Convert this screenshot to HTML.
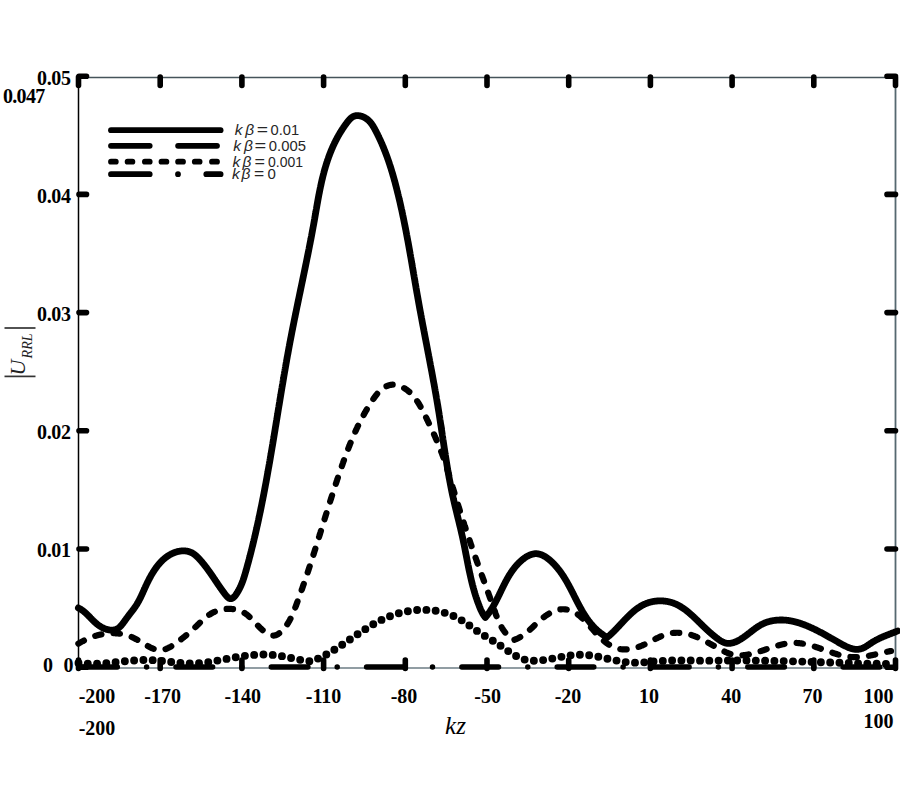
<!DOCTYPE html><html><head><meta charset="utf-8"><style>html,body{margin:0;padding:0;background:#fff;}svg{display:block;}</style></head><body>
<svg width="900" height="800" viewBox="0 0 900 800">
<rect width="900" height="800" fill="#fff"/>
<line x1="78.5" y1="77.5" x2="895.5" y2="77.5" stroke="#46545a" stroke-width="1.6"/>
<line x1="895.5" y1="77.5" x2="895.5" y2="668" stroke="#566870" stroke-width="1.8"/>
<line x1="78.5" y1="668" x2="895.5" y2="668" stroke="#6c7c84" stroke-width="1.6"/>
<line x1="78.5" y1="77.5" x2="78.5" y2="668" stroke="#000" stroke-width="1.5"/>
<path d="M78.5,77V85.5 M78.5,668.5V660 M160.2,77V85.5 M160.2,668.5V660 M241.9,77V85.5 M241.9,668.5V660 M323.6,77V85.5 M323.6,668.5V660 M405.3,77V85.5 M405.3,668.5V660 M487.0,77V85.5 M487.0,668.5V660 M568.7,77V85.5 M568.7,668.5V660 M650.4,77V85.5 M650.4,668.5V660 M732.1,77V85.5 M732.1,668.5V660 M813.8,77V85.5 M813.8,668.5V660 M895.5,77V85.5 M895.5,668.5V660 M79,667.2H86.5 M895.5,667.2H887 M79,549.0H86.5 M895.5,549.0H887 M79,430.8H86.5 M895.5,430.8H887 M79,312.6H86.5 M895.5,312.6H887 M79,194.4H86.5 M895.5,194.4H887 M79,76.2H86.5 M895.5,76.2H887" stroke="#000" stroke-width="5.6" stroke-linecap="round" fill="none"/>
<g stroke="#000" stroke-width="5.8" stroke-linecap="round" fill="none">
<path d="M111,130.2H220.6"/>
<path d="M111,145.8H149.7M178.1,145.8H217"/>
<path d="M111,161.7H115.8M127.6,161.7H132.4M144.9,161.7H149.7M161.5,161.7H166.4M178.1,161.7H183M194.8,161.7H199.6M212,161.7H217"/>
<path d="M111,174.2H149.7M178,174.2H178M206.3,174.2H220.6"/>
</g>
<path d="M78.40,607.90L78.85,608.14 79.30,608.38 79.74,608.63 80.17,608.88 80.60,609.14 81.02,609.41 81.43,609.69 81.84,609.97 82.25,610.26 82.65,610.55 83.04,610.86 83.43,611.16 83.82,611.48 84.20,611.79 84.58,612.12 84.96,612.44 85.33,612.77 85.70,613.11 86.07,613.45 86.43,613.79 86.80,614.14 87.16,614.49 87.52,614.84 87.87,615.19 88.23,615.55 88.58,615.91 88.94,616.27 89.29,616.63 89.64,616.99 90.00,617.35 90.35,617.71 90.70,618.08 91.06,618.44 91.41,618.80 91.77,619.16 92.12,619.53 92.48,619.89 92.84,620.24 93.20,620.60 93.56,620.96 93.93,621.31 94.30,621.66 94.67,622.00 95.04,622.35 95.42,622.69 95.80,623.02 96.19,623.36 96.58,623.69 96.97,624.01 97.37,624.33 97.77,624.64 98.17,624.95 98.59,625.26 99.00,625.55 99.43,625.84 99.86,626.13 100.29,626.41 100.73,626.68 101.17,626.94 101.62,627.20 102.08,627.44 102.54,627.68 103.00,627.91 103.47,628.14 103.94,628.35 104.41,628.55 104.88,628.74 105.36,628.92 105.84,629.09 106.32,629.25 106.80,629.40 107.28,629.53 107.76,629.65 108.24,629.76 108.72,629.86 109.20,629.94 109.68,630.01 110.16,630.07 110.64,630.11 111.11,630.14 111.58,630.15 112.05,630.14 112.52,630.12 112.98,630.08 113.44,630.03 113.89,629.96 114.34,629.87 114.79,629.77 115.23,629.64 115.66,629.50 116.09,629.34 116.51,629.16 116.93,628.96 117.33,628.75 117.74,628.51 118.13,628.25 118.52,627.97 118.90,627.68 119.27,627.37 119.64,627.05 120.00,626.71 120.36,626.35 120.72,625.99 121.06,625.61 121.41,625.22 121.75,624.82 122.09,624.42 122.42,624.00 122.75,623.58 123.08,623.15 123.40,622.72 123.72,622.28 124.04,621.84 124.36,621.40 124.68,620.96 125.00,620.51 125.31,620.07 125.63,619.62 125.95,619.18 126.26,618.75 126.58,618.31 126.89,617.88 127.21,617.45 127.53,617.03 127.84,616.61 128.16,616.19 128.48,615.77 128.79,615.36 129.11,614.95 129.42,614.54 129.73,614.13 130.04,613.73 130.35,613.32 130.66,612.92 130.97,612.52 131.28,612.12 131.58,611.72 131.89,611.33 132.19,610.93 132.49,610.53 132.79,610.14 133.08,609.74 133.37,609.35 133.67,608.95 133.95,608.55 134.24,608.16 134.52,607.76 134.80,607.37 135.08,606.97 135.35,606.57 135.63,606.17 135.89,605.77 136.16,605.37 136.42,604.96 136.68,604.56 136.93,604.15 137.18,603.74 137.43,603.33 137.67,602.91 137.91,602.50 138.15,602.08 138.38,601.67 138.61,601.25 138.84,600.83 139.07,600.40 139.29,599.98 139.51,599.55 139.73,599.13 139.95,598.70 140.16,598.27 140.38,597.84 140.59,597.41 140.80,596.97 141.01,596.54 141.21,596.10 141.42,595.66 141.62,595.22 141.83,594.78 142.03,594.34 142.23,593.90 142.44,593.45 142.64,593.01 142.84,592.56 143.04,592.12 143.24,591.67 143.44,591.22 143.64,590.77 143.84,590.32 144.05,589.87 144.25,589.42 144.45,588.96 144.66,588.51 144.86,588.05 145.07,587.60 145.27,587.14 145.48,586.68 145.69,586.23 145.90,585.77 146.11,585.31 146.33,584.85 146.55,584.39 146.76,583.93 146.98,583.47 147.21,583.01 147.43,582.55 147.65,582.08 147.88,581.62 148.11,581.16 148.34,580.70 148.58,580.24 148.81,579.78 149.05,579.32 149.29,578.86 149.53,578.40 149.77,577.94 150.02,577.49 150.27,577.03 150.52,576.58 150.77,576.12 151.03,575.67 151.28,575.22 151.54,574.77 151.81,574.32 152.07,573.87 152.34,573.42 152.61,572.98 152.88,572.54 153.15,572.10 153.43,571.66 153.71,571.22 153.99,570.79 154.27,570.35 154.56,569.92 154.85,569.50 155.14,569.07 155.44,568.65 155.73,568.23 156.03,567.81 156.34,567.40 156.64,566.98 156.95,566.58 157.26,566.17 157.57,565.77 157.89,565.37 158.21,564.97 158.53,564.58 158.86,564.19 159.19,563.81 159.52,563.43 159.85,563.05 160.19,562.67 160.53,562.30 160.88,561.94 161.22,561.58 161.57,561.22 161.93,560.87 162.28,560.52 162.64,560.17 163.00,559.83 163.37,559.50 163.74,559.17 164.11,558.84 164.49,558.52 164.87,558.21 165.25,557.90 165.64,557.59 166.03,557.29 166.42,557.00 166.82,556.71 167.22,556.42 167.62,556.15 168.03,555.87 168.44,555.61 168.85,555.35 169.27,555.09 169.69,554.84 170.12,554.60 170.55,554.36 170.98,554.13 171.42,553.91 171.86,553.69 172.30,553.48 172.75,553.28 173.20,553.08 173.66,552.89 174.11,552.71 174.58,552.54 175.04,552.37 175.51,552.21 175.98,552.06 176.45,551.91 176.92,551.78 177.40,551.65 177.87,551.53 178.35,551.42 178.83,551.32 179.31,551.23 179.79,551.15 180.28,551.08 180.76,551.01 181.24,550.96 181.73,550.92 182.21,550.89 182.69,550.87 183.18,550.86 183.66,550.86 184.14,550.87 184.62,550.89 185.10,550.92 185.58,550.97 186.06,551.02 186.53,551.09 187.00,551.17 187.47,551.27 187.94,551.37 188.41,551.49 188.87,551.62 189.33,551.77 189.79,551.92 190.24,552.09 190.69,552.28 191.14,552.48 191.58,552.69 192.02,552.91 192.45,553.15 192.88,553.41 193.31,553.68 193.73,553.96 194.14,554.25 194.56,554.55 194.96,554.87 195.37,555.20 195.77,555.53 196.17,555.88 196.56,556.23 196.95,556.59 197.33,556.96 197.71,557.33 198.09,557.71 198.46,558.09 198.83,558.48 199.20,558.87 199.56,559.27 199.92,559.67 200.27,560.07 200.63,560.47 200.98,560.87 201.32,561.27 201.66,561.67 202.00,562.07 202.34,562.47 202.67,562.87 203.00,563.28 203.33,563.68 203.65,564.08 203.97,564.48 204.29,564.88 204.61,565.28 204.92,565.68 205.23,566.08 205.54,566.48 205.85,566.88 206.15,567.28 206.46,567.68 206.76,568.08 207.06,568.48 207.35,568.88 207.65,569.28 207.94,569.68 208.23,570.09 208.52,570.49 208.81,570.89 209.10,571.29 209.38,571.69 209.67,572.09 209.95,572.50 210.23,572.90 210.52,573.30 210.80,573.70 211.08,574.11 211.35,574.51 211.63,574.92 211.91,575.32 212.19,575.72 212.46,576.13 212.74,576.54 213.01,576.94 213.29,577.35 213.57,577.75 213.84,578.16 214.12,578.57 214.39,578.98 214.67,579.39 214.94,579.80 215.22,580.20 215.49,580.62 215.77,581.03 216.05,581.44 216.32,581.85 216.60,582.26 216.88,582.67 217.16,583.09 217.44,583.50 217.72,583.92 218.01,584.33 218.29,584.75 218.58,585.17 218.86,585.58 219.15,586.00 219.44,586.42 219.73,586.84 220.02,587.26 220.32,587.69 220.61,588.11 220.91,588.53 221.21,588.95 221.51,589.38 221.82,589.81 222.12,590.23 222.43,590.66 222.74,591.09 223.05,591.52 223.37,591.95 223.69,592.38 224.01,592.81 224.33,593.25 224.65,593.68 224.98,594.11 225.31,594.54 225.65,594.96 225.98,595.37 226.32,595.76 226.66,596.15 227.00,596.51 227.34,596.86 227.68,597.19 228.03,597.49 228.37,597.76 228.72,598.00 229.07,598.21 229.41,598.39 229.76,598.53 230.11,598.63 230.46,598.68 230.81,598.70 231.16,598.66 231.50,598.59 231.85,598.48 232.20,598.33 232.54,598.14 232.89,597.92 233.23,597.67 233.57,597.39 233.90,597.08 234.24,596.75 234.57,596.39 234.90,596.01 235.22,595.62 235.54,595.20 235.86,594.77 236.17,594.33 236.47,593.88 236.77,593.42 237.07,592.96 237.36,592.49 237.65,592.01 237.92,591.54 238.20,591.07 238.46,590.59 238.72,590.12 238.98,589.64 239.23,589.17 239.47,588.69 239.71,588.22 239.95,587.74 240.17,587.27 240.40,586.79 240.62,586.31 240.83,585.84 241.04,585.36 241.25,584.88 241.45,584.41 241.65,583.93 241.84,583.45 242.03,582.97 242.22,582.49 242.40,582.02 242.58,581.54 242.75,581.06 242.93,580.58 243.09,580.10 243.26,579.62 243.43,579.14 243.59,578.66 243.74,578.18 243.90,577.70 244.05,577.22 244.21,576.74 244.36,576.26 244.50,575.78 244.65,575.30 244.80,574.82 244.94,574.34 245.08,573.86 245.22,573.38 245.36,572.90 245.50,572.41 245.64,571.93 245.77,571.45 245.91,570.97 246.04,570.49 246.18,570.01 246.32,569.52 246.45,569.04 246.58,568.56 246.72,568.08 246.85,567.60 246.99,567.11 247.12,566.63 247.25,566.15 247.38,565.67 247.52,565.18 247.65,564.70 247.78,564.22 247.91,563.74 248.04,563.25 248.17,562.77 248.30,562.29 248.43,561.80 248.56,561.32 248.69,560.84 248.82,560.35 248.95,559.87 249.08,559.39 249.20,558.90 249.33,558.42 249.46,557.94 249.59,557.45 249.71,556.97 249.84,556.49 249.96,556.00 250.09,555.52 250.22,555.03 250.34,554.55 250.46,554.07 250.59,553.58 250.71,553.10 250.84,552.61 250.96,552.13 251.08,551.64 251.21,551.16 251.33,550.67 251.45,550.19 251.57,549.70 251.69,549.22 251.82,548.73 251.94,548.25 252.06,547.76 252.18,547.28 252.30,546.79 252.42,546.31 252.54,545.82 252.66,545.34 252.78,544.85 252.89,544.37 253.01,543.88 253.13,543.40 253.25,542.91 253.37,542.43 253.48,541.94 253.60,541.45 253.72,540.97 253.83,540.48 253.95,540.00 254.07,539.51 254.18,539.02 254.30,538.54 254.41,538.05 254.53,537.56 254.64,537.08 254.76,536.59 254.87,536.11 254.98,535.62 255.10,535.13 255.21,534.65 255.32,534.16 255.43,533.67 255.55,533.18 255.66,532.70 255.77,532.21 255.88,531.72 255.99,531.24 256.10,530.75 256.22,530.26 256.33,529.77 256.44,529.29 256.55,528.80 256.66,528.31 256.77,527.83 256.87,527.34 256.98,526.85 257.09,526.36 257.20,525.87 257.31,525.39 257.42,524.90 257.53,524.41 257.63,523.92 257.74,523.44 257.85,522.95 257.95,522.46 258.06,521.97 258.17,521.48 258.27,520.99 258.38,520.51 258.48,520.02 258.59,519.53 258.69,519.04 258.80,518.55 258.90,518.06 259.01,517.58 259.11,517.09 259.22,516.60 259.32,516.11 259.42,515.62 259.53,515.13 259.63,514.64 259.73,514.15 259.84,513.66 259.94,513.18 260.04,512.69 260.14,512.20 260.24,511.71 260.35,511.22 260.45,510.73 260.55,510.24 260.65,509.75 260.75,509.26 260.85,508.77 260.95,508.28 261.05,507.79 261.15,507.30 261.25,506.81 261.35,506.32 261.45,505.83 261.55,505.34 261.65,504.85 261.75,504.36 261.85,503.87 261.94,503.38 262.04,502.89 262.14,502.40 262.24,501.91 262.33,501.42 262.43,500.93 262.53,500.44 262.63,499.95 262.72,499.46 262.82,498.97 262.92,498.48 263.01,497.99 263.11,497.50 263.20,497.01 263.30,496.52 263.40,496.03 263.49,495.54 263.59,495.05 263.68,494.56 263.78,494.07 263.87,493.58 263.96,493.09 264.06,492.59 264.15,492.10 264.25,491.61 264.34,491.12 264.43,490.63 264.53,490.14 264.62,489.65 264.71,489.16 264.81,488.67 264.90,488.18 264.99,487.68 265.08,487.19 265.18,486.70 265.27,486.21 265.36,485.72 265.45,485.23 265.54,484.74 265.64,484.24 265.73,483.75 265.82,483.26 265.91,482.77 266.00,482.28 266.09,481.79 266.18,481.29 266.27,480.80 266.36,480.31 266.45,479.82 266.54,479.33 266.63,478.84 266.72,478.34 266.81,477.85 266.90,477.36 266.99,476.87 267.08,476.38 267.17,475.88 267.26,475.39 267.35,474.90 267.43,474.41 267.52,473.92 267.61,473.42 267.70,472.93 267.79,472.44 267.88,471.95 267.96,471.45 268.05,470.96 268.14,470.47 268.23,469.98 268.31,469.48 268.40,468.99 268.49,468.50 268.57,468.01 268.66,467.51 268.75,467.02 268.83,466.53 268.92,466.04 269.01,465.54 269.09,465.05 269.18,464.56 269.27,464.07 269.35,463.57 269.44,463.08 269.52,462.59 269.61,462.10 269.70,461.60 269.78,461.11 269.87,460.62 269.95,460.12 270.04,459.63 270.12,459.14 270.21,458.65 270.29,458.15 270.38,457.66 270.46,457.17 270.55,456.67 270.63,456.18 270.71,455.69 270.80,455.19 270.88,454.70 270.97,454.21 271.05,453.71 271.14,453.22 271.22,452.73 271.30,452.24 271.39,451.74 271.47,451.25 271.55,450.76 271.64,450.26 271.72,449.77 271.80,449.28 271.89,448.78 271.97,448.29 272.05,447.80 272.14,447.30 272.22,446.81 272.30,446.32 272.39,445.82 272.47,445.33 272.55,444.84 272.63,444.34 272.72,443.85 272.80,443.35 272.88,442.86 272.96,442.37 273.05,441.87 273.13,441.38 273.21,440.89 273.29,440.39 273.37,439.90 273.46,439.41 273.54,438.91 273.62,438.42 273.70,437.93 273.78,437.43 273.87,436.94 273.95,436.44 274.03,435.95 274.11,435.46 274.19,434.96 274.27,434.47 274.36,433.98 274.44,433.48 274.52,432.99 274.60,432.49 274.68,432.00 274.76,431.51 274.84,431.01 274.93,430.52 275.01,430.03 275.09,429.53 275.17,429.04 275.25,428.54 275.33,428.05 275.41,427.56 275.49,427.06 275.57,426.57 275.66,426.07 275.74,425.58 275.82,425.09 275.90,424.59 275.98,424.10 276.06,423.60 276.14,423.11 276.22,422.62 276.30,422.12 276.38,421.63 276.46,421.14 276.54,420.64 276.63,420.15 276.71,419.65 276.79,419.16 276.87,418.67 276.95,418.17 277.03,417.68 277.11,417.18 277.19,416.69 277.27,416.20 277.35,415.70 277.43,415.21 277.51,414.71 277.59,414.22 277.68,413.73 277.76,413.23 277.84,412.74 277.92,412.24 278.00,411.75 278.08,411.26 278.16,410.76 278.24,410.27 278.32,409.77 278.40,409.28 278.48,408.79 278.56,408.29 278.64,407.80 278.73,407.31 278.81,406.81 278.89,406.32 278.97,405.82 279.05,405.33 279.13,404.84 279.21,404.34 279.29,403.85 279.37,403.35 279.45,402.86 279.54,402.37 279.62,401.87 279.70,401.38 279.78,400.88 279.86,400.39 279.94,399.90 280.02,399.40 280.10,398.91 280.19,398.41 280.27,397.92 280.35,397.43 280.43,396.93 280.51,396.44 280.59,395.95 280.67,395.45 280.76,394.96 280.84,394.46 280.92,393.97 281.00,393.48 281.08,392.98 281.17,392.49 281.25,392.00 281.33,391.50 281.41,391.01 281.49,390.51 281.58,390.02 281.66,389.53 281.74,389.03 281.82,388.54 281.91,388.05 281.99,387.55 282.07,387.06 282.15,386.57 282.24,386.07 282.32,385.58 282.40,385.08 282.48,384.59 282.57,384.10 282.65,383.60 282.73,383.11 282.82,382.62 282.90,382.12 282.98,381.63 283.07,381.14 283.15,380.64 283.23,380.15 283.32,379.66 283.40,379.16 283.48,378.67 283.57,378.18 283.65,377.68 283.74,377.19 283.82,376.70 283.90,376.20 283.99,375.71 284.07,375.22 284.16,374.72 284.24,374.23 284.33,373.74 284.41,373.24 284.50,372.75 284.58,372.26 284.67,371.76 284.75,371.27 284.84,370.78 284.92,370.28 285.01,369.79 285.09,369.30 285.18,368.81 285.26,368.31 285.35,367.82 285.44,367.33 285.52,366.83 285.61,366.34 285.69,365.85 285.78,365.36 285.87,364.86 285.95,364.37 286.04,363.88 286.13,363.38 286.21,362.89 286.30,362.40 286.39,361.91 286.47,361.41 286.56,360.92 286.65,360.43 286.74,359.94 286.83,359.44 286.91,358.95 287.00,358.46 287.09,357.97 287.18,357.47 287.27,356.98 287.35,356.49 287.44,356.00 287.53,355.50 287.62,355.01 287.71,354.52 287.80,354.03 287.89,353.54 287.98,353.04 288.07,352.55 288.16,352.06 288.25,351.57 288.34,351.07 288.43,350.58 288.52,350.09 288.61,349.60 288.70,349.11 288.79,348.61 288.88,348.12 288.97,347.63 289.06,347.14 289.15,346.65 289.25,346.16 289.34,345.66 289.43,345.17 289.52,344.68 289.61,344.19 289.71,343.70 289.80,343.21 289.89,342.71 289.98,342.22 290.08,341.73 290.17,341.24 290.26,340.75 290.36,340.26 290.45,339.77 290.54,339.27 290.64,338.78 290.73,338.29 290.83,337.80 290.92,337.31 291.02,336.82 291.11,336.33 291.21,335.84 291.30,335.35 291.40,334.85 291.49,334.36 291.59,333.87 291.68,333.38 291.78,332.89 291.87,332.40 291.97,331.91 292.07,331.42 292.16,330.93 292.26,330.44 292.35,329.95 292.45,329.46 292.55,328.96 292.65,328.47 292.74,327.98 292.84,327.49 292.94,327.00 293.03,326.51 293.13,326.02 293.23,325.53 293.33,325.04 293.42,324.55 293.52,324.06 293.62,323.57 293.72,323.08 293.82,322.59 293.92,322.10 294.01,321.61 294.11,321.12 294.21,320.63 294.31,320.14 294.41,319.65 294.51,319.16 294.61,318.67 294.71,318.18 294.81,317.69 294.91,317.20 295.01,316.71 295.11,316.22 295.21,315.73 295.30,315.24 295.40,314.75 295.50,314.26 295.60,313.77 295.71,313.28 295.81,312.79 295.91,312.30 296.01,311.81 296.11,311.32 296.21,310.83 296.31,310.34 296.41,309.85 296.51,309.36 296.61,308.87 296.71,308.38 296.81,307.89 296.91,307.40 297.01,306.91 297.11,306.42 297.22,305.93 297.32,305.44 297.42,304.95 297.52,304.46 297.62,303.97 297.72,303.48 297.82,302.99 297.93,302.50 298.03,302.01 298.13,301.52 298.23,301.03 298.33,300.54 298.43,300.05 298.53,299.56 298.64,299.07 298.74,298.58 298.84,298.09 298.94,297.60 299.04,297.11 299.15,296.62 299.25,296.13 299.35,295.64 299.45,295.16 299.55,294.67 299.66,294.18 299.76,293.69 299.86,293.20 299.96,292.71 300.06,292.22 300.17,291.73 300.27,291.24 300.37,290.75 300.47,290.26 300.58,289.77 300.68,289.28 300.78,288.79 300.88,288.30 300.98,287.81 301.09,287.32 301.19,286.83 301.29,286.34 301.39,285.85 301.49,285.36 301.60,284.87 301.70,284.38 301.80,283.90 301.90,283.41 302.01,282.92 302.11,282.43 302.21,281.94 302.31,281.45 302.41,280.96 302.52,280.47 302.62,279.98 302.72,279.49 302.82,279.00 302.92,278.51 303.03,278.02 303.13,277.53 303.23,277.04 303.33,276.55 303.43,276.06 303.53,275.57 303.64,275.08 303.74,274.59 303.84,274.10 303.94,273.61 304.04,273.12 304.14,272.63 304.24,272.14 304.35,271.65 304.45,271.16 304.55,270.67 304.65,270.18 304.75,269.69 304.85,269.20 304.95,268.71 305.05,268.22 305.16,267.73 305.26,267.24 305.36,266.75 305.46,266.26 305.56,265.77 305.66,265.28 305.76,264.79 305.86,264.30 305.96,263.81 306.06,263.32 306.16,262.83 306.26,262.34 306.36,261.85 306.46,261.36 306.56,260.87 306.66,260.38 306.76,259.89 306.86,259.40 306.96,258.91 307.06,258.42 307.16,257.93 307.26,257.44 307.36,256.95 307.45,256.46 307.55,255.97 307.65,255.48 307.75,254.99 307.85,254.50 307.95,254.01 308.05,253.52 308.14,253.03 308.24,252.54 308.34,252.05 308.44,251.56 308.54,251.07 308.63,250.58 308.73,250.09 308.83,249.60 308.93,249.11 309.02,248.61 309.12,248.12 309.22,247.63 309.32,247.14 309.41,246.65 309.51,246.16 309.61,245.67 309.70,245.18 309.80,244.69 309.89,244.20 309.99,243.71 310.09,243.21 310.18,242.72 310.28,242.23 310.37,241.74 310.47,241.25 310.56,240.76 310.66,240.27 310.75,239.78 310.85,239.29 310.94,238.79 311.04,238.30 311.13,237.81 311.22,237.32 311.32,236.83 311.41,236.34 311.51,235.85 311.60,235.35 311.69,234.86 311.79,234.37 311.88,233.88 311.97,233.39 312.06,232.90 312.16,232.40 312.25,231.91 312.34,231.42 312.43,230.93 312.52,230.44 312.61,229.94 312.71,229.45 312.80,228.96 312.89,228.47 312.98,227.98 313.07,227.48 313.16,226.99 313.25,226.50 313.34,226.01 313.43,225.52 313.52,225.02 313.61,224.53 313.70,224.04 313.79,223.55 313.88,223.05 313.96,222.56 314.05,222.07 314.14,221.57 314.23,221.08 314.32,220.59 314.40,220.10 314.49,219.60 314.58,219.11 314.67,218.62 314.75,218.12 314.84,217.63 314.93,217.14 315.01,216.65 315.10,216.15 315.18,215.66 315.27,215.17 315.36,214.67 315.44,214.18 315.53,213.69 315.61,213.19 315.70,212.70 315.79,212.21 315.87,211.71 315.96,211.22 316.04,210.73 316.13,210.23 316.21,209.74 316.30,209.25 316.39,208.76 316.47,208.26 316.56,207.77 316.64,207.28 316.73,206.78 316.82,206.29 316.90,205.80 316.99,205.31 317.08,204.81 317.16,204.32 317.25,203.83 317.34,203.34 317.43,202.84 317.52,202.35 317.60,201.86 317.69,201.37 317.78,200.87 317.87,200.38 317.96,199.89 318.05,199.40 318.14,198.91 318.23,198.42 318.32,197.92 318.41,197.43 318.50,196.94 318.60,196.45 318.69,195.96 318.78,195.47 318.87,194.98 318.97,194.49 319.06,194.00 319.16,193.51 319.25,193.02 319.35,192.53 319.44,192.04 319.54,191.55 319.64,191.06 319.74,190.57 319.83,190.08 319.93,189.59 320.03,189.10 320.13,188.61 320.23,188.12 320.33,187.63 320.44,187.15 320.54,186.66 320.64,186.17 320.75,185.68 320.85,185.20 320.96,184.71 321.06,184.22 321.17,183.73 321.28,183.25 321.39,182.76 321.49,182.27 321.60,181.79 321.72,181.30 321.83,180.82 321.94,180.33 322.05,179.85 322.17,179.36 322.28,178.88 322.40,178.39 322.51,177.91 322.63,177.43 322.75,176.94 322.87,176.46 322.99,175.98 323.11,175.49 323.23,175.01 323.36,174.53 323.48,174.05 323.61,173.57 323.73,173.08 323.86,172.60 323.99,172.12 324.12,171.64 324.25,171.16 324.38,170.68 324.51,170.20 324.65,169.72 324.78,169.24 324.92,168.77 325.06,168.29 325.20,167.81 325.34,167.33 325.48,166.85 325.62,166.38 325.76,165.90 325.91,165.42 326.05,164.95 326.20,164.47 326.35,164.00 326.50,163.52 326.65,163.05 326.80,162.57 326.95,162.10 327.11,161.63 327.26,161.15 327.42,160.68 327.58,160.21 327.74,159.74 327.90,159.27 328.07,158.80 328.23,158.32 328.40,157.85 328.56,157.38 328.73,156.92 328.90,156.45 329.08,155.98 329.25,155.51 329.42,155.04 329.60,154.57 329.78,154.11 329.96,153.64 330.14,153.17 330.32,152.71 330.51,152.24 330.69,151.78 330.88,151.31 331.07,150.85 331.26,150.39 331.45,149.92 331.65,149.46 331.84,149.00 332.04,148.54 332.24,148.08 332.44,147.62 332.64,147.16 332.85,146.70 333.05,146.24 333.26,145.78 333.47,145.32 333.68,144.87 333.89,144.41 334.11,143.96 334.32,143.50 334.54,143.05 334.76,142.59 334.98,142.14 335.21,141.69 335.43,141.24 335.66,140.79 335.89,140.34 336.12,139.89 336.35,139.44 336.58,138.99 336.82,138.54 337.06,138.10 337.30,137.65 337.54,137.21 337.78,136.76 338.03,136.32 338.28,135.88 338.53,135.44 338.78,135.00 339.03,134.56 339.29,134.12 339.54,133.68 339.80,133.25 340.06,132.81 340.33,132.37 340.59,131.94 340.86,131.51 341.13,131.08 341.40,130.64 341.67,130.21 341.95,129.78 342.22,129.36 342.50,128.93 342.78,128.50 343.07,128.08 343.35,127.65 343.64,127.23 343.93,126.81 344.22,126.39 344.51,125.97 344.81,125.55 345.11,125.13 345.41,124.72 345.71,124.30 346.01,123.89 346.32,123.48 346.63,123.06 346.94,122.65 347.25,122.24 347.56,121.84 347.88,121.43 348.20,121.03 348.53,120.64 348.86,120.25 349.19,119.87 349.53,119.50 349.87,119.14 350.22,118.79 350.57,118.46 350.93,118.13 351.30,117.82 351.67,117.53 352.05,117.26 352.44,117.00 352.84,116.76 353.25,116.55 353.66,116.35 354.08,116.18 354.52,116.03 354.96,115.91 355.41,115.80 355.87,115.72 356.33,115.67 356.80,115.63 357.28,115.62 357.76,115.62 358.24,115.65 358.72,115.69 359.21,115.75 359.70,115.84 360.19,115.94 360.68,116.05 361.18,116.19 361.66,116.34 362.15,116.50 362.63,116.68 363.12,116.88 363.59,117.09 364.06,117.32 364.53,117.55 364.99,117.80 365.44,118.07 365.88,118.34 366.32,118.63 366.74,118.92 367.16,119.23 367.57,119.55 367.96,119.87 368.34,120.21 368.72,120.55 369.08,120.91 369.43,121.27 369.77,121.63 370.11,122.01 370.44,122.39 370.75,122.78 371.06,123.18 371.37,123.58 371.66,123.98 371.95,124.39 372.23,124.81 372.51,125.23 372.78,125.66 373.05,126.08 373.31,126.52 373.57,126.95 373.82,127.39 374.07,127.83 374.32,128.27 374.57,128.72 374.81,129.16 375.05,129.61 375.29,130.05 375.52,130.50 375.76,130.95 375.99,131.40 376.23,131.85 376.46,132.30 376.69,132.75 376.92,133.20 377.15,133.65 377.37,134.10 377.60,134.55 377.82,135.00 378.04,135.46 378.27,135.91 378.49,136.36 378.70,136.82 378.92,137.27 379.14,137.72 379.35,138.18 379.57,138.63 379.78,139.09 379.99,139.55 380.20,140.00 380.41,140.46 380.62,140.92 380.82,141.38 381.03,141.84 381.23,142.29 381.43,142.75 381.64,143.21 381.84,143.67 382.04,144.13 382.23,144.59 382.43,145.05 382.63,145.52 382.82,145.98 383.02,146.44 383.21,146.90 383.40,147.37 383.59,147.83 383.78,148.29 383.97,148.76 384.15,149.22 384.34,149.69 384.52,150.15 384.71,150.62 384.89,151.08 385.07,151.55 385.25,152.02 385.43,152.48 385.61,152.95 385.79,153.42 385.97,153.88 386.14,154.35 386.32,154.82 386.49,155.29 386.66,155.76 386.84,156.23 387.01,156.70 387.18,157.17 387.35,157.64 387.51,158.11 387.68,158.58 387.85,159.05 388.01,159.52 388.18,159.99 388.34,160.47 388.50,160.94 388.66,161.41 388.83,161.88 388.99,162.36 389.14,162.83 389.30,163.30 389.46,163.78 389.62,164.25 389.77,164.73 389.93,165.20 390.08,165.68 390.23,166.15 390.39,166.63 390.54,167.10 390.69,167.58 390.84,168.06 390.99,168.53 391.14,169.01 391.29,169.49 391.43,169.96 391.58,170.44 391.72,170.92 391.87,171.40 392.01,171.87 392.16,172.35 392.30,172.83 392.44,173.31 392.58,173.79 392.72,174.27 392.86,174.75 393.00,175.23 393.14,175.71 393.28,176.19 393.42,176.67 393.55,177.15 393.69,177.63 393.83,178.11 393.96,178.59 394.10,179.07 394.23,179.55 394.36,180.03 394.49,180.51 394.63,180.99 394.76,181.48 394.89,181.96 395.02,182.44 395.15,182.92 395.28,183.41 395.41,183.89 395.53,184.37 395.66,184.85 395.79,185.34 395.92,185.82 396.04,186.30 396.17,186.79 396.29,187.27 396.42,187.75 396.54,188.24 396.66,188.72 396.79,189.20 396.91,189.69 397.03,190.17 397.15,190.66 397.28,191.14 397.40,191.63 397.52,192.11 397.64,192.60 397.76,193.08 397.88,193.57 398.00,194.05 398.11,194.54 398.23,195.02 398.35,195.51 398.47,195.99 398.58,196.48 398.70,196.96 398.82,197.45 398.93,197.93 399.05,198.42 399.16,198.91 399.28,199.39 399.39,199.88 399.51,200.37 399.62,200.85 399.73,201.34 399.84,201.82 399.96,202.31 400.07,202.80 400.18,203.29 400.29,203.77 400.40,204.26 400.51,204.75 400.62,205.23 400.73,205.72 400.84,206.21 400.95,206.70 401.06,207.18 401.17,207.67 401.28,208.16 401.38,208.65 401.49,209.13 401.60,209.62 401.71,210.11 401.81,210.60 401.92,211.09 402.02,211.58 402.13,212.06 402.23,212.55 402.34,213.04 402.44,213.53 402.55,214.02 402.65,214.51 402.75,215.00 402.86,215.48 402.96,215.97 403.06,216.46 403.17,216.95 403.27,217.44 403.37,217.93 403.47,218.42 403.57,218.91 403.67,219.40 403.77,219.89 403.87,220.38 403.97,220.87 404.07,221.36 404.17,221.85 404.27,222.34 404.37,222.83 404.47,223.32 404.57,223.81 404.67,224.30 404.76,224.79 404.86,225.28 404.96,225.77 405.06,226.26 405.15,226.75 405.25,227.24 405.35,227.73 405.44,228.22 405.54,228.71 405.63,229.20 405.73,229.69 405.83,230.19 405.92,230.68 406.02,231.17 406.11,231.66 406.20,232.15 406.30,232.64 406.39,233.13 406.49,233.62 406.58,234.11 406.67,234.61 406.77,235.10 406.86,235.59 406.95,236.08 407.04,236.57 407.14,237.06 407.23,237.56 407.32,238.05 407.41,238.54 407.50,239.03 407.60,239.52 407.69,240.01 407.78,240.51 407.87,241.00 407.96,241.49 408.05,241.98 408.14,242.47 408.23,242.97 408.32,243.46 408.41,243.95 408.50,244.44 408.59,244.94 408.68,245.43 408.77,245.92 408.86,246.41 408.95,246.91 409.03,247.40 409.12,247.89 409.21,248.38 409.30,248.88 409.39,249.37 409.48,249.86 409.56,250.35 409.65,250.85 409.74,251.34 409.83,251.83 409.92,252.33 410.00,252.82 410.09,253.31 410.18,253.80 410.26,254.30 410.35,254.79 410.44,255.28 410.53,255.78 410.61,256.27 410.70,256.76 410.78,257.26 410.87,257.75 410.96,258.24 411.04,258.73 411.13,259.23 411.22,259.72 411.30,260.21 411.39,260.71 411.47,261.20 411.56,261.69 411.65,262.19 411.73,262.68 411.82,263.17 411.90,263.67 411.99,264.16 412.07,264.65 412.16,265.15 412.24,265.64 412.33,266.13 412.41,266.63 412.50,267.12 412.58,267.61 412.67,268.11 412.75,268.60 412.84,269.10 412.93,269.59 413.01,270.08 413.10,270.58 413.18,271.07 413.26,271.56 413.35,272.06 413.43,272.55 413.52,273.04 413.60,273.54 413.69,274.03 413.77,274.52 413.86,275.02 413.94,275.51 414.03,276.00 414.11,276.50 414.20,276.99 414.28,277.48 414.37,277.98 414.45,278.47 414.54,278.97 414.62,279.46 414.71,279.95 414.79,280.45 414.88,280.94 414.96,281.43 415.05,281.93 415.13,282.42 415.22,282.91 415.30,283.41 415.39,283.90 415.47,284.39 415.56,284.89 415.65,285.38 415.73,285.87 415.82,286.37 415.90,286.86 415.99,287.35 416.07,287.85 416.16,288.34 416.24,288.83 416.33,289.33 416.42,289.82 416.50,290.31 416.59,290.81 416.67,291.30 416.76,291.79 416.85,292.29 416.93,292.78 417.02,293.27 417.11,293.77 417.19,294.26 417.28,294.75 417.37,295.25 417.45,295.74 417.54,296.23 417.63,296.72 417.72,297.22 417.80,297.71 417.89,298.20 417.98,298.70 418.07,299.19 418.15,299.68 418.24,300.17 418.33,300.67 418.42,301.16 418.51,301.65 418.60,302.15 418.68,302.64 418.77,303.13 418.86,303.62 418.95,304.12 419.04,304.61 419.13,305.10 419.22,305.59 419.31,306.09 419.40,306.58 419.49,307.07 419.58,307.56 419.67,308.06 419.76,308.55 419.85,309.04 419.94,309.53 420.03,310.02 420.12,310.52 420.21,311.01 420.30,311.50 420.39,311.99 420.49,312.48 420.58,312.98 420.67,313.47 420.76,313.96 420.85,314.45 420.94,314.94 421.03,315.44 421.13,315.93 421.22,316.42 421.31,316.91 421.40,317.40 421.49,317.90 421.59,318.39 421.68,318.88 421.77,319.37 421.86,319.86 421.96,320.35 422.05,320.85 422.14,321.34 422.23,321.83 422.33,322.32 422.42,322.81 422.51,323.30 422.61,323.80 422.70,324.29 422.79,324.78 422.88,325.27 422.98,325.76 423.07,326.25 423.16,326.74 423.26,327.24 423.35,327.73 423.44,328.22 423.54,328.71 423.63,329.20 423.73,329.69 423.82,330.18 423.91,330.68 424.01,331.17 424.10,331.66 424.20,332.15 424.29,332.64 424.38,333.13 424.48,333.62 424.57,334.11 424.67,334.61 424.76,335.10 424.85,335.59 424.95,336.08 425.04,336.57 425.14,337.06 425.23,337.55 425.32,338.04 425.42,338.54 425.51,339.03 425.61,339.52 425.70,340.01 425.80,340.50 425.89,340.99 425.98,341.48 426.08,341.97 426.17,342.46 426.27,342.96 426.36,343.45 426.46,343.94 426.55,344.43 426.65,344.92 426.74,345.41 426.83,345.90 426.93,346.39 427.02,346.88 427.12,347.38 427.21,347.87 427.31,348.36 427.40,348.85 427.49,349.34 427.59,349.83 427.68,350.32 427.78,350.81 427.87,351.30 427.97,351.80 428.06,352.29 428.15,352.78 428.25,353.27 428.34,353.76 428.44,354.25 428.53,354.74 428.62,355.23 428.72,355.72 428.81,356.22 428.91,356.71 429.00,357.20 429.09,357.69 429.19,358.18 429.28,358.67 429.37,359.16 429.47,359.65 429.56,360.14 429.65,360.64 429.75,361.13 429.84,361.62 429.94,362.11 430.03,362.60 430.12,363.09 430.21,363.58 430.31,364.07 430.40,364.56 430.49,365.06 430.59,365.55 430.68,366.04 430.77,366.53 430.86,367.02 430.96,367.51 431.05,368.00 431.14,368.50 431.23,368.99 431.33,369.48 431.42,369.97 431.51,370.46 431.60,370.95 431.70,371.44 431.79,371.93 431.88,372.43 431.97,372.92 432.06,373.41 432.15,373.90 432.24,374.39 432.34,374.88 432.43,375.38 432.52,375.87 432.61,376.36 432.70,376.85 432.79,377.34 432.88,377.83 432.97,378.32 433.06,378.82 433.15,379.31 433.24,379.80 433.33,380.29 433.42,380.78 433.51,381.28 433.60,381.77 433.69,382.26 433.78,382.75 433.87,383.24 433.96,383.73 434.05,384.23 434.14,384.72 434.23,385.21 434.32,385.70 434.40,386.19 434.49,386.69 434.58,387.18 434.67,387.67 434.76,388.16 434.85,388.65 434.93,389.15 435.02,389.64 435.11,390.13 435.20,390.62 435.28,391.12 435.37,391.61 435.46,392.10 435.54,392.59 435.63,393.08 435.72,393.58 435.80,394.07 435.89,394.56 435.97,395.05 436.06,395.55 436.15,396.04 436.23,396.53 436.32,397.02 436.40,397.52 436.49,398.01 436.57,398.50 436.65,399.00 436.74,399.49 436.82,399.98 436.91,400.47 436.99,400.97 437.07,401.46 437.16,401.95 437.24,402.45 437.32,402.94 437.41,403.43 437.49,403.93 437.57,404.42 437.65,404.91 437.74,405.40 437.82,405.90 437.90,406.39 437.98,406.88 438.06,407.38 438.14,407.87 438.22,408.36 438.31,408.86 438.39,409.35 438.47,409.85 438.55,410.34 438.63,410.83 438.71,411.33 438.78,411.82 438.86,412.31 438.94,412.81 439.02,413.30 439.10,413.80 439.18,414.29 439.26,414.78 439.33,415.28 439.41,415.77 439.49,416.27 439.57,416.76 439.64,417.25 439.72,417.75 439.80,418.24 439.87,418.74 439.95,419.23 440.03,419.72 440.10,420.22 440.18,420.71 440.26,421.21 440.33,421.70 440.41,422.20 440.48,422.69 440.56,423.19 440.63,423.68 440.71,424.17 440.78,424.67 440.86,425.16 440.93,425.66 441.01,426.15 441.08,426.65 441.16,427.14 441.23,427.64 441.31,428.13 441.38,428.63 441.46,429.12 441.53,429.62 441.60,430.11 441.68,430.61 441.75,431.10 441.83,431.60 441.90,432.09 441.97,432.58 442.05,433.08 442.12,433.57 442.20,434.07 442.27,434.56 442.34,435.06 442.42,435.55 442.49,436.05 442.57,436.54 442.64,437.04 442.71,437.53 442.79,438.03 442.86,438.52 442.93,439.02 443.01,439.51 443.08,440.01 443.16,440.50 443.23,441.00 443.30,441.49 443.38,441.99 443.45,442.48 443.53,442.98 443.60,443.47 443.68,443.96 443.75,444.46 443.82,444.95 443.90,445.45 443.97,445.94 444.05,446.44 444.12,446.93 444.20,447.43 444.27,447.92 444.35,448.42 444.42,448.91 444.50,449.41 444.57,449.90 444.65,450.39 444.73,450.89 444.80,451.38 444.88,451.88 444.95,452.37 445.03,452.87 445.11,453.36 445.18,453.86 445.26,454.35 445.34,454.84 445.41,455.34 445.49,455.83 445.57,456.33 445.64,456.82 445.72,457.31 445.80,457.81 445.88,458.30 445.96,458.80 446.04,459.29 446.11,459.78 446.19,460.28 446.27,460.77 446.35,461.27 446.43,461.76 446.51,462.25 446.59,462.75 446.67,463.24 446.75,463.73 446.83,464.23 446.91,464.72 446.99,465.21 447.08,465.71 447.16,466.20 447.24,466.69 447.32,467.19 447.40,467.68 447.49,468.17 447.57,468.67 447.65,469.16 447.74,469.65 447.82,470.15 447.91,470.64 447.99,471.13 448.08,471.62 448.16,472.12 448.25,472.61 448.33,473.10 448.42,473.59 448.51,474.09 448.59,474.58 448.68,475.07 448.77,475.56 448.85,476.06 448.94,476.55 449.03,477.04 449.12,477.53 449.21,478.02 449.30,478.52 449.39,479.01 449.48,479.50 449.57,479.99 449.66,480.48 449.75,480.97 449.85,481.46 449.94,481.96 450.03,482.45 450.13,482.94 450.22,483.43 450.31,483.92 450.41,484.41 450.50,484.90 450.60,485.39 450.69,485.88 450.79,486.37 450.89,486.86 450.98,487.35 451.08,487.84 451.18,488.33 451.28,488.82 451.38,489.31 451.48,489.80 451.58,490.29 451.68,490.78 451.78,491.27 451.88,491.76 451.98,492.25 452.09,492.74 452.19,493.23 452.29,493.72 452.40,494.21 452.50,494.70 452.61,495.19 452.71,495.68 452.82,496.16 452.92,496.65 453.03,497.14 453.14,497.63 453.25,498.12 453.36,498.61 453.47,499.09 453.57,499.58 453.69,500.07 453.80,500.56 453.91,501.05 454.02,501.53 454.13,502.02 454.24,502.51 454.36,503.00 454.47,503.48 454.58,503.97 454.70,504.46 454.81,504.94 454.93,505.43 455.04,505.92 455.16,506.40 455.28,506.89 455.39,507.38 455.51,507.87 455.63,508.35 455.74,508.84 455.86,509.32 455.98,509.81 456.10,510.30 456.21,510.78 456.33,511.27 456.45,511.76 456.57,512.24 456.69,512.73 456.81,513.22 456.92,513.70 457.04,514.19 457.16,514.68 457.28,515.16 457.40,515.65 457.52,516.13 457.64,516.62 457.76,517.11 457.88,517.59 458.00,518.08 458.12,518.57 458.23,519.05 458.35,519.54 458.47,520.02 458.59,520.51 458.71,521.00 458.83,521.48 458.95,521.97 459.07,522.46 459.18,522.94 459.30,523.43 459.42,523.92 459.54,524.40 459.65,524.89 459.77,525.38 459.89,525.86 460.01,526.35 460.12,526.84 460.24,527.33 460.35,527.81 460.47,528.30 460.58,528.79 460.70,529.27 460.81,529.76 460.93,530.25 461.04,530.74 461.16,531.23 461.27,531.71 461.38,532.20 461.49,532.69 461.61,533.18 461.72,533.67 461.83,534.15 461.94,534.64 462.05,535.13 462.16,535.62 462.26,536.11 462.37,536.60 462.48,537.09 462.59,537.58 462.69,538.06 462.80,538.55 462.90,539.04 463.01,539.53 463.11,540.02 463.22,540.51 463.32,541.00 463.42,541.49 463.52,541.98 463.63,542.47 463.73,542.96 463.83,543.45 463.93,543.94 464.03,544.44 464.13,544.93 464.23,545.42 464.33,545.91 464.42,546.40 464.52,546.89 464.62,547.38 464.72,547.87 464.82,548.36 464.91,548.85 465.01,549.35 465.11,549.84 465.20,550.33 465.30,550.82 465.39,551.31 465.49,551.80 465.59,552.29 465.68,552.79 465.78,553.28 465.87,553.77 465.97,554.26 466.06,554.75 466.16,555.24 466.25,555.73 466.35,556.23 466.44,556.72 466.54,557.21 466.63,557.70 466.73,558.19 466.83,558.68 466.92,559.17 467.02,559.67 467.11,560.16 467.21,560.65 467.30,561.14 467.40,561.63 467.50,562.12 467.59,562.61 467.69,563.10 467.79,563.59 467.89,564.08 467.98,564.58 468.08,565.07 468.18,565.56 468.28,566.05 468.38,566.54 468.48,567.03 468.58,567.52 468.68,568.01 468.78,568.50 468.88,568.99 468.98,569.48 469.08,569.97 469.19,570.46 469.29,570.94 469.39,571.43 469.50,571.92 469.60,572.41 469.70,572.90 469.81,573.39 469.92,573.88 470.02,574.37 470.13,574.85 470.24,575.34 470.35,575.83 470.46,576.32 470.57,576.80 470.68,577.29 470.79,577.78 470.90,578.26 471.02,578.75 471.13,579.24 471.24,579.72 471.36,580.21 471.48,580.70 471.59,581.18 471.71,581.67 471.83,582.15 471.95,582.64 472.07,583.12 472.19,583.61 472.31,584.09 472.44,584.57 472.56,585.06 472.69,585.54 472.82,586.02 472.94,586.51 473.07,586.99 473.20,587.47 473.33,587.95 473.46,588.44 473.60,588.92 473.73,589.40 473.87,589.88 474.00,590.36 474.14,590.84 474.28,591.32 474.42,591.80 474.56,592.28 474.70,592.76 474.85,593.24 474.99,593.72 475.14,594.19 475.28,594.67 475.43,595.15 475.58,595.63 475.74,596.10 475.89,596.58 476.04,597.06 476.20,597.53 476.36,598.01 476.51,598.48 476.67,598.96 476.84,599.43 477.00,599.90 477.16,600.38 477.33,600.85 477.50,601.32 477.67,601.80 477.84,602.27 478.01,602.74 478.18,603.21 478.36,603.68 478.54,604.15 478.72,604.62 478.90,605.09 479.08,605.56 479.26,606.03 479.45,606.50 479.63,606.97 479.82,607.43 480.02,607.90 480.21,608.37 480.41,608.83 480.60,609.29 480.81,609.76 481.01,610.22 481.22,610.67 481.44,611.13 481.66,611.58 481.88,612.03 482.11,612.48 482.35,612.92 482.59,613.36 482.83,613.80 483.09,614.23 483.35,614.66 483.61,615.08 483.89,615.50 484.17,615.91 484.46,616.32 484.76,616.72 485.07,617.12 485.40,617.50 485.65,616.99 485.98,616.62 486.30,616.24 486.61,615.86 486.92,615.48 487.23,615.10 487.54,614.71 487.84,614.32 488.14,613.93 488.43,613.53 488.73,613.14 489.02,612.74 489.30,612.33 489.59,611.93 489.87,611.52 490.15,611.12 490.42,610.71 490.70,610.29 490.97,609.88 491.24,609.46 491.50,609.04 491.77,608.62 492.03,608.20 492.29,607.78 492.54,607.35 492.80,606.92 493.05,606.50 493.30,606.06 493.55,605.63 493.80,605.20 494.04,604.76 494.29,604.33 494.53,603.89 494.77,603.45 495.01,603.01 495.24,602.57 495.48,602.12 495.72,601.68 495.95,601.23 496.18,600.79 496.41,600.34 496.64,599.89 496.87,599.44 497.10,598.99 497.33,598.54 497.55,598.09 497.78,597.63 498.00,597.18 498.23,596.73 498.45,596.27 498.67,595.82 498.89,595.36 499.12,594.90 499.34,594.45 499.56,593.99 499.78,593.53 500.00,593.07 500.22,592.62 500.44,592.16 500.66,591.70 500.89,591.24 501.11,590.78 501.33,590.32 501.55,589.86 501.77,589.40 502.00,588.94 502.22,588.48 502.44,588.03 502.67,587.57 502.89,587.11 503.12,586.65 503.34,586.19 503.57,585.74 503.80,585.28 504.03,584.82 504.26,584.37 504.49,583.91 504.72,583.46 504.96,583.00 505.19,582.55 505.43,582.10 505.67,581.65 505.91,581.19 506.15,580.74 506.39,580.30 506.64,579.85 506.88,579.40 507.13,578.95 507.38,578.51 507.63,578.06 507.89,577.62 508.14,577.18 508.40,576.74 508.66,576.30 508.92,575.86 509.19,575.43 509.45,574.99 509.72,574.56 510.00,574.13 510.27,573.70 510.55,573.27 510.83,572.84 511.11,572.42 511.40,572.00 511.69,571.57 511.98,571.15 512.27,570.74 512.57,570.32 512.87,569.91 513.17,569.50 513.48,569.09 513.79,568.68 514.10,568.27 514.42,567.87 514.74,567.47 515.07,567.07 515.40,566.67 515.73,566.28 516.06,565.89 516.40,565.50 516.75,565.11 517.09,564.73 517.44,564.35 517.80,563.97 518.16,563.59 518.52,563.22 518.89,562.85 519.26,562.48 519.64,562.12 520.02,561.76 520.41,561.40 520.79,561.04 521.19,560.69 521.58,560.35 521.98,560.01 522.39,559.67 522.80,559.34 523.21,559.02 523.62,558.70 524.04,558.39 524.46,558.09 524.88,557.79 525.31,557.50 525.73,557.22 526.16,556.95 526.60,556.68 527.03,556.43 527.47,556.18 527.91,555.94 528.35,555.71 528.79,555.50 529.23,555.29 529.68,555.10 530.12,554.91 530.57,554.74 531.02,554.58 531.47,554.43 531.92,554.29 532.37,554.17 532.82,554.06 533.27,553.97 533.72,553.88 534.17,553.82 534.62,553.76 535.08,553.73 535.53,553.70 535.98,553.70 536.43,553.70 536.88,553.73 537.33,553.77 537.78,553.82 538.22,553.89 538.67,553.98 539.12,554.07 539.56,554.19 540.01,554.31 540.45,554.45 540.89,554.60 541.33,554.76 541.77,554.94 542.20,555.12 542.64,555.32 543.07,555.53 543.51,555.75 543.94,555.98 544.36,556.21 544.79,556.46 545.21,556.72 545.64,556.99 546.06,557.26 546.47,557.54 546.89,557.83 547.30,558.13 547.71,558.44 548.12,558.75 548.52,559.07 548.93,559.39 549.32,559.72 549.72,560.05 550.11,560.39 550.50,560.74 550.89,561.09 551.28,561.44 551.66,561.79 552.03,562.15 552.41,562.52 552.78,562.88 553.15,563.25 553.51,563.62 553.87,563.99 554.23,564.36 554.58,564.74 554.93,565.12 555.28,565.50 555.62,565.88 555.96,566.26 556.30,566.65 556.63,567.04 556.96,567.43 557.29,567.82 557.61,568.22 557.94,568.61 558.26,569.01 558.57,569.41 558.89,569.81 559.20,570.22 559.51,570.62 559.81,571.03 560.12,571.44 560.42,571.85 560.71,572.26 561.01,572.68 561.30,573.09 561.59,573.51 561.88,573.93 562.17,574.35 562.45,574.77 562.74,575.19 563.02,575.62 563.29,576.04 563.57,576.47 563.84,576.90 564.11,577.33 564.38,577.76 564.65,578.19 564.92,578.62 565.18,579.06 565.44,579.49 565.70,579.93 565.96,580.37 566.22,580.81 566.48,581.25 566.73,581.69 566.98,582.13 567.24,582.57 567.49,583.01 567.73,583.46 567.98,583.90 568.23,584.35 568.47,584.79 568.72,585.24 568.96,585.69 569.20,586.13 569.44,586.58 569.68,587.03 569.92,587.48 570.16,587.93 570.39,588.38 570.63,588.83 570.86,589.28 571.10,589.73 571.33,590.19 571.56,590.64 571.80,591.09 572.03,591.54 572.26,592.00 572.49,592.45 572.72,592.90 572.95,593.36 573.18,593.81 573.41,594.26 573.64,594.72 573.87,595.17 574.10,595.62 574.32,596.08 574.55,596.53 574.78,596.98 575.01,597.44 575.24,597.89 575.47,598.34 575.69,598.79 575.92,599.25 576.15,599.70 576.38,600.15 576.61,600.60 576.84,601.05 577.07,601.50 577.30,601.95 577.53,602.40 577.77,602.85 578.00,603.29 578.23,603.74 578.47,604.19 578.70,604.63 578.94,605.08 579.17,605.52 579.41,605.97 579.65,606.41 579.89,606.85 580.13,607.29 580.37,607.73 580.61,608.17 580.85,608.61 581.10,609.05 581.34,609.48 581.59,609.92 581.84,610.35 582.08,610.78 582.34,611.22 582.59,611.65 582.84,612.08 583.10,612.50 583.35,612.93 583.61,613.36 583.87,613.78 584.13,614.20 584.39,614.62 584.66,615.04 584.93,615.46 585.20,615.88 585.47,616.29 585.74,616.71 586.01,617.12 586.29,617.53 586.57,617.94 586.85,618.34 587.13,618.75 587.42,619.15 587.70,619.56 587.99,619.95 588.29,620.35 588.58,620.75 588.88,621.14 589.18,621.54 589.48,621.93 589.78,622.31 590.09,622.70 590.40,623.08 590.71,623.47 591.03,623.85 591.34,624.22 591.66,624.60 591.99,624.97 592.31,625.34 592.64,625.71 592.98,626.08 593.31,626.44 593.65,626.80 593.99,627.16 594.34,627.52 594.68,627.87 595.04,628.22 595.39,628.57 595.75,628.92 596.11,629.26 596.48,629.60 596.84,629.94 597.22,630.28 597.59,630.61 597.97,630.94 598.35,631.27 598.74,631.59 599.13,631.91 599.52,632.23 599.92,632.55 600.32,632.86 600.73,633.17 601.14,633.48 601.55,633.78 601.97,634.08 602.39,634.38 602.82,634.67 603.25,634.96 603.68,635.25 604.12,635.54 604.57,635.82 605.01,636.10 605.46,636.37 605.92,636.64 606.38,636.91 606.85,637.17 607.10,637.50 607.49,637.10 607.86,636.81 608.22,636.51 608.59,636.21 608.95,635.90 609.31,635.59 609.68,635.28 610.04,634.96 610.40,634.64 610.75,634.32 611.11,633.99 611.47,633.66 611.83,633.33 612.18,632.99 612.54,632.65 612.89,632.31 613.24,631.96 613.60,631.62 613.95,631.27 614.30,630.91 614.65,630.56 615.00,630.20 615.35,629.84 615.70,629.48 616.05,629.12 616.40,628.76 616.75,628.39 617.10,628.02 617.45,627.65 617.80,627.28 618.15,626.91 618.50,626.54 618.85,626.16 619.20,625.79 619.55,625.41 619.90,625.03 620.25,624.66 620.60,624.28 620.95,623.90 621.30,623.52 621.65,623.14 622.01,622.77 622.36,622.39 622.71,622.01 623.07,621.63 623.42,621.25 623.77,620.87 624.13,620.50 624.49,620.12 624.84,619.74 625.20,619.37 625.56,619.00 625.92,618.62 626.28,618.25 626.64,617.88 627.00,617.51 627.37,617.14 627.73,616.78 628.10,616.41 628.46,616.05 628.83,615.69 629.20,615.33 629.57,614.97 629.94,614.62 630.32,614.27 630.69,613.92 631.07,613.57 631.45,613.22 631.82,612.88 632.21,612.54 632.59,612.21 632.97,611.87 633.36,611.54 633.75,611.21 634.13,610.89 634.53,610.57 634.92,610.25 635.31,609.94 635.71,609.63 636.11,609.33 636.51,609.02 636.91,608.73 637.32,608.43 637.73,608.15 638.14,607.86 638.55,607.58 638.96,607.30 639.38,607.03 639.80,606.77 640.22,606.51 640.64,606.25 641.07,606.00 641.50,605.75 641.93,605.51 642.36,605.28 642.80,605.05 643.24,604.82 643.68,604.61 644.12,604.39 644.57,604.19 645.02,603.99 645.48,603.79 645.93,603.60 646.39,603.42 646.85,603.25 647.32,603.08 647.78,602.91 648.25,602.76 648.72,602.61 649.20,602.46 649.67,602.32 650.15,602.19 650.63,602.07 651.11,601.95 651.60,601.83 652.08,601.73 652.57,601.62 653.06,601.53 653.55,601.44 654.04,601.36 654.53,601.28 655.03,601.21 655.52,601.15 656.02,601.09 656.51,601.04 657.01,601.00 657.51,600.96 658.01,600.93 658.50,600.90 659.00,600.88 659.50,600.87 660.00,600.86 660.50,600.86 661.00,600.87 661.50,600.88 662.00,600.90 662.50,600.92 663.00,600.95 663.49,600.99 663.99,601.04 664.49,601.09 664.98,601.14 665.48,601.20 665.97,601.27 666.47,601.35 666.96,601.43 667.45,601.52 667.94,601.61 668.43,601.71 668.91,601.82 669.40,601.93 669.88,602.05 670.36,602.18 670.84,602.31 671.32,602.45 671.80,602.59 672.27,602.74 672.74,602.90 673.21,603.06 673.67,603.23 674.14,603.41 674.60,603.59 675.06,603.78 675.51,603.97 675.97,604.17 676.42,604.38 676.87,604.59 677.31,604.81 677.76,605.03 678.20,605.26 678.64,605.50 679.08,605.73 679.51,605.98 679.95,606.23 680.38,606.48 680.81,606.74 681.23,607.00 681.66,607.27 682.08,607.54 682.50,607.82 682.92,608.10 683.34,608.38 683.75,608.67 684.17,608.96 684.58,609.26 684.99,609.56 685.40,609.86 685.80,610.17 686.21,610.48 686.61,610.79 687.01,611.11 687.41,611.43 687.81,611.75 688.20,612.07 688.60,612.40 688.99,612.73 689.38,613.06 689.77,613.40 690.16,613.73 690.55,614.07 690.93,614.41 691.32,614.76 691.70,615.10 692.08,615.45 692.47,615.80 692.84,616.15 693.22,616.50 693.60,616.85 693.98,617.20 694.35,617.56 694.73,617.91 695.10,618.27 695.47,618.62 695.84,618.98 696.21,619.34 696.58,619.70 696.95,620.05 697.32,620.41 697.68,620.77 698.05,621.13 698.41,621.49 698.78,621.85 699.14,622.20 699.50,622.56 699.87,622.92 700.23,623.27 700.59,623.63 700.95,623.98 701.31,624.34 701.67,624.69 702.03,625.04 702.38,625.39 702.74,625.74 703.10,626.09 703.46,626.43 703.81,626.78 704.17,627.12 704.53,627.46 704.89,627.80 705.24,628.14 705.60,628.48 705.96,628.82 706.32,629.15 706.68,629.49 707.04,629.82 707.40,630.16 707.76,630.49 708.13,630.82 708.49,631.15 708.86,631.48 709.22,631.81 709.59,632.13 709.96,632.46 710.33,632.78 710.70,633.11 711.07,633.43 711.45,633.76 711.83,634.08 712.20,634.40 712.59,634.72 712.97,635.04 713.35,635.36 713.74,635.68 714.13,635.99 714.52,636.31 714.92,636.63 715.31,636.94 715.71,637.25 716.12,637.57 716.52,637.88 716.93,638.20 717.34,638.51 717.76,638.82 718.17,639.12 718.59,639.42 719.02,639.72 719.44,640.01 719.87,640.30 720.30,640.58 720.73,640.84 721.17,641.11 721.61,641.36 722.05,641.60 722.49,641.83 722.94,642.04 723.39,642.25 723.84,642.44 724.29,642.61 724.75,642.77 725.21,642.91 725.67,643.04 726.13,643.15 726.60,643.23 727.07,643.30 727.54,643.35 728.01,643.38 728.48,643.40 728.96,643.39 729.44,643.37 729.92,643.34 730.39,643.28 730.88,643.21 731.36,643.13 731.84,643.03 732.32,642.92 732.80,642.79 733.29,642.65 733.77,642.50 734.25,642.34 734.73,642.16 735.22,641.97 735.70,641.78 736.18,641.57 736.66,641.35 737.13,641.13 737.61,640.89 738.09,640.65 738.56,640.40 739.03,640.14 739.50,639.87 739.97,639.60 740.43,639.32 740.89,639.04 741.35,638.75 741.81,638.46 742.26,638.17 742.72,637.87 743.16,637.56 743.61,637.26 744.05,636.95 744.48,636.65 744.92,636.34 745.35,636.03 745.77,635.71 746.20,635.40 746.62,635.09 747.04,634.77 747.45,634.46 747.87,634.14 748.28,633.83 748.69,633.51 749.10,633.19 749.51,632.88 749.91,632.56 750.32,632.25 750.72,631.94 751.12,631.62 751.52,631.31 751.92,631.00 752.32,630.69 752.72,630.38 753.12,630.08 753.52,629.78 753.92,629.48 754.32,629.18 754.72,628.88 755.12,628.59 755.52,628.30 755.92,628.01 756.33,627.72 756.73,627.44 757.14,627.16 757.54,626.89 757.95,626.62 758.36,626.35 758.78,626.09 759.19,625.83 759.61,625.58 760.03,625.33 760.45,625.09 760.87,624.85 761.30,624.62 761.73,624.39 762.17,624.17 762.61,623.95 763.05,623.74 763.49,623.53 763.94,623.33 764.39,623.14 764.85,622.95 765.31,622.77 765.77,622.60 766.23,622.43 766.70,622.26 767.17,622.11 767.64,621.96 768.12,621.81 768.60,621.67 769.08,621.54 769.56,621.41 770.05,621.28 770.54,621.17 771.03,621.05 771.52,620.95 772.02,620.85 772.51,620.75 773.01,620.66 773.51,620.58 774.01,620.50 774.51,620.43 775.01,620.36 775.52,620.30 776.02,620.25 776.53,620.19 777.04,620.15 777.55,620.11 778.06,620.07 778.57,620.05 779.08,620.02 779.59,620.00 780.10,619.99 780.61,619.98 781.12,619.98 781.63,619.98 782.14,619.99 782.65,620.00 783.16,620.02 783.67,620.04 784.18,620.07 784.69,620.10 785.20,620.14 785.70,620.18 786.21,620.23 786.71,620.28 787.22,620.34 787.72,620.40 788.23,620.46 788.73,620.54 789.23,620.61 789.73,620.69 790.23,620.78 790.73,620.86 791.23,620.96 791.73,621.05 792.22,621.15 792.72,621.26 793.21,621.37 793.71,621.48 794.20,621.60 794.69,621.72 795.18,621.84 795.67,621.97 796.16,622.10 796.65,622.24 797.14,622.37 797.62,622.51 798.11,622.66 798.59,622.81 799.08,622.96 799.56,623.11 800.04,623.27 800.52,623.43 801.00,623.59 801.48,623.75 801.96,623.92 802.43,624.09 802.91,624.27 803.38,624.44 803.86,624.62 804.33,624.80 804.80,624.98 805.27,625.17 805.74,625.35 806.21,625.54 806.67,625.73 807.14,625.93 807.60,626.12 808.07,626.32 808.53,626.52 808.99,626.72 809.45,626.92 809.91,627.12 810.37,627.33 810.83,627.53 811.28,627.74 811.74,627.95 812.19,628.16 812.65,628.37 813.10,628.58 813.55,628.80 814.00,629.01 814.45,629.23 814.90,629.44 815.34,629.66 815.79,629.88 816.24,630.10 816.68,630.33 817.13,630.55 817.57,630.78 818.01,631.00 818.46,631.23 818.90,631.46 819.34,631.68 819.78,631.91 820.22,632.15 820.66,632.38 821.10,632.61 821.54,632.84 821.98,633.08 822.41,633.31 822.85,633.55 823.29,633.79 823.73,634.02 824.16,634.26 824.60,634.50 825.04,634.74 825.47,634.98 825.91,635.22 826.35,635.47 826.78,635.71 827.22,635.95 827.65,636.20 828.09,636.44 828.52,636.68 828.96,636.93 829.40,637.18 829.83,637.42 830.27,637.67 830.70,637.92 831.14,638.16 831.58,638.41 832.01,638.66 832.45,638.91 832.89,639.16 833.33,639.41 833.76,639.66 834.20,639.91 834.64,640.16 835.08,640.41 835.52,640.66 835.96,640.91 836.40,641.16 836.84,641.41 837.28,641.66 837.73,641.92 838.17,642.17 838.61,642.42 839.06,642.67 839.50,642.92 839.95,643.17 840.39,643.42 840.84,643.68 841.29,643.93 841.74,644.17 842.19,644.42 842.64,644.67 843.09,644.91 843.54,645.15 843.99,645.39 844.45,645.62 844.90,645.86 845.35,646.08 845.81,646.30 846.26,646.52 846.72,646.73 847.17,646.94 847.63,647.14 848.09,647.34 848.54,647.53 849.00,647.71 849.46,647.88 849.92,648.05 850.38,648.20 850.84,648.35 851.30,648.50 851.76,648.63 852.22,648.75 852.68,648.86 853.14,648.96 853.60,649.05 854.06,649.14 854.53,649.20 854.99,649.26 855.45,649.31 855.91,649.34 856.38,649.36 856.84,649.37 857.30,649.36 857.76,649.34 858.23,649.30 858.69,649.26 859.16,649.19 859.62,649.11 860.08,649.02 860.55,648.90 861.01,648.78 861.47,648.63 861.94,648.47 862.40,648.29 862.87,648.09 863.33,647.89 863.79,647.66 864.26,647.43 864.72,647.18 865.18,646.92 865.64,646.66 866.11,646.38 866.57,646.10 867.03,645.81 867.49,645.51 867.95,645.21 868.41,644.91 868.86,644.61 869.32,644.30 869.78,643.99 870.23,643.69 870.69,643.38 871.14,643.08 871.59,642.78 872.05,642.49 872.50,642.20 872.95,641.92 873.39,641.65 873.84,641.38 874.29,641.11 874.73,640.85 875.18,640.60 875.62,640.35 876.07,640.11 876.51,639.87 876.95,639.63 877.39,639.40 877.84,639.17 878.28,638.95 878.72,638.73 879.16,638.52 879.60,638.30 880.04,638.09 880.48,637.89 880.93,637.69 881.37,637.49 881.81,637.29 882.25,637.09 882.70,636.90 883.14,636.71 883.58,636.52 884.03,636.34 884.47,636.15 884.92,635.97 885.37,635.79 885.81,635.61 886.26,635.43 886.71,635.25 887.16,635.07 887.61,634.90 888.07,634.72 888.52,634.54 888.98,634.37 889.44,634.19 889.89,634.01 890.36,633.83 890.82,633.66 891.28,633.48 891.75,633.30 892.21,633.12 892.68,632.94 893.16,632.75 893.63,632.57 894.11,632.38 894.58,632.19 895.06,632.00 895.55,631.81 896.03,631.62 896.52,631.42 897.01,631.22 897.50,631.00" stroke="#000" stroke-width="6.8" fill="none" stroke-linejoin="round" stroke-linecap="round"/>
<path d="M78.40,643.70L78.81,643.44 79.25,643.17 79.68,642.91 80.12,642.65 80.56,642.40 81.00,642.14 81.45,641.89 81.89,641.65 82.34,641.40 82.79,641.16 83.24,640.92 83.69,640.69 84.14,640.46 84.59,640.23 85.05,640.00 85.51,639.78 85.96,639.56 86.42,639.35 86.88,639.13 87.35,638.93 87.81,638.72 88.27,638.52 88.74,638.32 89.21,638.12 89.67,637.93 90.14,637.74 90.61,637.56 91.08,637.37 91.56,637.20 92.03,637.02 92.50,636.85 92.98,636.68 93.46,636.52 93.93,636.36 94.41,636.20 94.89,636.05 95.37,635.90 95.85,635.75 96.33,635.61 96.81,635.47 97.30,635.34 97.78,635.21 98.27,635.08 98.75,634.96 99.24,634.84 99.72,634.73 100.21,634.62 100.70,634.51 101.18,634.41 101.67,634.31 102.16,634.21 102.65,634.12 103.14,634.04 103.63,633.95 104.12,633.87 104.61,633.80 105.10,633.73 105.60,633.66 106.09,633.60 106.58,633.55 107.07,633.49 107.57,633.45 108.06,633.40 108.55,633.36 109.04,633.33 109.54,633.30 110.03,633.27 110.52,633.25 111.02,633.23 111.51,633.22 112.00,633.21 112.50,633.21 112.99,633.21 113.48,633.21 113.98,633.22 114.47,633.24 114.96,633.26 115.46,633.28 115.95,633.31 116.44,633.34 116.93,633.38 117.42,633.43 117.91,633.47 118.40,633.53 118.90,633.59 119.39,633.65 119.87,633.72 120.36,633.79 120.85,633.87 121.34,633.95 121.83,634.04 122.32,634.13 122.80,634.23 123.29,634.33 123.77,634.44 124.26,634.56 124.74,634.68 125.22,634.80 125.71,634.93 126.19,635.07 126.67,635.21 127.15,635.35 127.63,635.50 128.11,635.66 128.59,635.82 129.06,635.99 129.54,636.16 130.01,636.34 130.49,636.52 130.96,636.71 131.43,636.90 131.90,637.10 132.37,637.31 132.84,637.52 133.31,637.74 133.77,637.96 134.24,638.19 134.70,638.42 135.16,638.66 135.63,638.91 136.09,639.15 136.55,639.41 137.00,639.66 137.46,639.92 137.92,640.18 138.37,640.45 138.83,640.72 139.28,640.99 139.74,641.26 140.19,641.53 140.64,641.81 141.09,642.08 141.54,642.36 141.99,642.63 142.44,642.91 142.89,643.19 143.34,643.46 143.78,643.73 144.23,644.01 144.68,644.28 145.12,644.54 145.57,644.81 146.02,645.07 146.46,645.33 146.91,645.59 147.35,645.84 147.80,646.09 148.24,646.34 148.69,646.58 149.13,646.81 149.57,647.04 150.02,647.27 150.46,647.48 150.91,647.69 151.35,647.90 151.80,648.10 152.24,648.29 152.69,648.47 153.13,648.65 153.58,648.81 154.02,648.97 154.47,649.12 154.92,649.26 155.36,649.39 155.81,649.51 156.26,649.62 156.71,649.72 157.16,649.81 157.60,649.89 158.05,649.95 158.51,650.01 158.96,650.05 159.41,650.08 159.86,650.10 160.31,650.10 160.77,650.09 161.22,650.06 161.68,650.03 162.14,649.97 162.60,649.91 163.05,649.82 163.51,649.73 163.97,649.62 164.43,649.49 164.90,649.36 165.36,649.21 165.82,649.04 166.28,648.87 166.74,648.68 167.21,648.49 167.67,648.28 168.13,648.06 168.59,647.84 169.05,647.60 169.52,647.36 169.98,647.10 170.44,646.84 170.89,646.58 171.35,646.30 171.81,646.02 172.26,645.73 172.72,645.44 173.17,645.14 173.62,644.84 174.07,644.53 174.52,644.22 174.97,643.91 175.41,643.59 175.85,643.27 176.29,642.95 176.73,642.63 177.17,642.31 177.60,641.98 178.03,641.66 178.46,641.33 178.89,641.01 179.31,640.69 179.73,640.37 180.15,640.05 180.56,639.73 180.97,639.41 181.38,639.09 181.79,638.78 182.20,638.46 182.60,638.14 183.00,637.83 183.40,637.51 183.79,637.20 184.18,636.89 184.58,636.57 184.96,636.26 185.35,635.95 185.74,635.63 186.12,635.32 186.50,635.01 186.88,634.69 187.26,634.38 187.64,634.06 188.01,633.75 188.39,633.43 188.76,633.12 189.13,632.80 189.50,632.48 189.87,632.16 190.23,631.84 190.60,631.52 190.96,631.20 191.33,630.88 191.69,630.55 192.05,630.23 192.41,629.90 192.77,629.57 193.13,629.24 193.49,628.91 193.85,628.58 194.21,628.24 194.56,627.91 194.92,627.57 195.28,627.23 195.63,626.88 195.99,626.54 196.35,626.19 196.70,625.84 197.06,625.49 197.41,625.14 197.77,624.79 198.13,624.44 198.48,624.09 198.84,623.74 199.20,623.38 199.56,623.03 199.92,622.68 200.28,622.32 200.64,621.97 201.01,621.62 201.37,621.27 201.74,620.93 202.11,620.58 202.48,620.23 202.85,619.89 203.22,619.55 203.60,619.21 203.98,618.88 204.36,618.54 204.74,618.21 205.13,617.89 205.51,617.56 205.90,617.24 206.30,616.93 206.69,616.62 207.09,616.31 207.49,616.01 207.90,615.71 208.31,615.41 208.72,615.12 209.13,614.84 209.55,614.56 209.98,614.29 210.40,614.02 210.83,613.76 211.27,613.50 211.71,613.26 212.15,613.01 212.60,612.78 213.05,612.55 213.50,612.33 213.96,612.11 214.42,611.90 214.89,611.70 215.36,611.51 215.83,611.32 216.31,611.14 216.78,610.96 217.27,610.80 217.75,610.64 218.24,610.48 218.72,610.33 219.21,610.19 219.71,610.06 220.20,609.93 220.70,609.82 221.20,609.70 221.70,609.60 222.20,609.50 222.70,609.41 223.20,609.32 223.71,609.25 224.21,609.18 224.72,609.11 225.22,609.06 225.73,609.01 226.24,608.97 226.74,608.94 227.25,608.91 227.76,608.89 228.27,608.88 228.77,608.87 229.28,608.87 229.78,608.88 230.29,608.90 230.79,608.92 231.29,608.96 231.80,609.00 232.30,609.04 232.79,609.10 233.29,609.16 233.79,609.23 234.28,609.30 234.77,609.39 235.26,609.48 235.75,609.58 236.23,609.68 236.71,609.80 237.19,609.92 237.67,610.05 238.14,610.19 238.61,610.33 239.08,610.48 239.54,610.64 240.00,610.81 240.45,610.99 240.91,611.17 241.35,611.36 241.80,611.56 242.24,611.77 242.67,611.98 243.10,612.20 243.53,612.44 243.95,612.67 244.37,612.92 244.78,613.17 245.18,613.44 245.59,613.71 245.98,613.98 246.38,614.27 246.76,614.56 247.15,614.86 247.53,615.16 247.91,615.47 248.28,615.79 248.65,616.11 249.02,616.44 249.39,616.78 249.76,617.12 250.12,617.46 250.48,617.81 250.84,618.17 251.20,618.52 251.56,618.89 251.92,619.25 252.27,619.62 252.63,620.00 252.99,620.37 253.35,620.75 253.70,621.13 254.06,621.52 254.42,621.91 254.79,622.30 255.15,622.69 255.52,623.08 255.88,623.48 256.25,623.87 256.63,624.27 257.00,624.67 257.38,625.06 257.77,625.46 258.15,625.86 258.54,626.26 258.94,626.66 259.34,627.05 259.74,627.45 260.15,627.85 260.56,628.24 260.98,628.63 261.41,629.02 261.83,629.41 262.26,629.79 262.70,630.16 263.14,630.53 263.58,630.90 264.02,631.25 264.47,631.60 264.92,631.93 265.37,632.26 265.82,632.58 266.27,632.88 266.73,633.17 267.18,633.45 267.64,633.72 268.10,633.97 268.55,634.20 269.01,634.42 269.47,634.62 269.92,634.81 270.38,634.97 270.83,635.12 271.28,635.24 271.73,635.35 272.18,635.43 272.62,635.49 273.07,635.53 273.50,635.54 273.94,635.53 274.37,635.49 274.80,635.43 275.23,635.34 275.65,635.22 276.06,635.07 276.47,634.90 276.88,634.71 277.28,634.50 277.68,634.27 278.07,634.02 278.46,633.77 278.84,633.50 279.22,633.22 279.60,632.93 279.96,632.63 280.32,632.34 280.68,632.03 281.03,631.72 281.38,631.41 281.72,631.09 282.06,630.76 282.40,630.43 282.72,630.09 283.05,629.75 283.37,629.40 283.68,629.05 283.99,628.70 284.30,628.34 284.60,627.97 284.90,627.60 285.20,627.23 285.49,626.85 285.77,626.47 286.06,626.08 286.33,625.69 286.61,625.30 286.88,624.90 287.15,624.50 287.41,624.09 287.67,623.68 287.93,623.27 288.19,622.85 288.44,622.43 288.69,622.01 288.93,621.58 289.17,621.15 289.41,620.72 289.65,620.29 289.88,619.85 290.11,619.41 290.34,618.96 290.57,618.52 290.79,618.07 291.01,617.62 291.23,617.17 291.44,616.71 291.66,616.25 291.87,615.79 292.08,615.33 292.28,614.87 292.49,614.40 292.69,613.93 292.89,613.47 293.09,613.00 293.29,612.52 293.49,612.05 293.68,611.58 293.88,611.10 294.07,610.62 294.26,610.14 294.45,609.67 294.64,609.19 294.83,608.70 295.01,608.22 295.20,607.74 295.38,607.26 295.56,606.78 295.75,606.29 295.93,605.81 296.11,605.33 296.29,604.84 296.47,604.36 296.65,603.87 296.83,603.39 297.01,602.91 297.19,602.42 297.37,601.94 297.55,601.46 297.72,600.97 297.90,600.49 298.08,600.01 298.25,599.52 298.43,599.04 298.61,598.56 298.78,598.08 298.96,597.59 299.13,597.11 299.31,596.63 299.48,596.15 299.65,595.66 299.83,595.18 300.00,594.70 300.17,594.22 300.34,593.73 300.52,593.25 300.69,592.77 300.86,592.29 301.03,591.81 301.20,591.33 301.37,590.85 301.54,590.36 301.71,589.88 301.88,589.40 302.05,588.92 302.22,588.44 302.39,587.96 302.55,587.48 302.72,587.00 302.89,586.52 303.05,586.04 303.22,585.55 303.39,585.07 303.55,584.59 303.72,584.11 303.89,583.63 304.05,583.15 304.22,582.67 304.38,582.19 304.54,581.71 304.71,581.23 304.87,580.75 305.04,580.27 305.20,579.79 305.36,579.32 305.52,578.84 305.69,578.36 305.85,577.88 306.01,577.40 306.17,576.92 306.33,576.44 306.50,575.96 306.66,575.48 306.82,575.00 306.98,574.52 307.14,574.04 307.30,573.57 307.46,573.09 307.62,572.61 307.78,572.13 307.93,571.65 308.09,571.17 308.25,570.70 308.41,570.22 308.57,569.74 308.73,569.26 308.88,568.78 309.04,568.31 309.20,567.83 309.35,567.35 309.51,566.87 309.67,566.39 309.82,565.92 309.98,565.44 310.14,564.96 310.29,564.48 310.45,564.01 310.60,563.53 310.76,563.05 310.91,562.57 311.07,562.10 311.22,561.62 311.38,561.14 311.53,560.67 311.68,560.19 311.84,559.71 311.99,559.24 312.14,558.76 312.30,558.28 312.45,557.81 312.60,557.33 312.76,556.85 312.91,556.38 313.06,555.90 313.21,555.42 313.37,554.95 313.52,554.47 313.67,553.99 313.82,553.52 313.97,553.04 314.12,552.57 314.28,552.09 314.43,551.61 314.58,551.14 314.73,550.66 314.88,550.19 315.03,549.71 315.18,549.23 315.33,548.76 315.48,548.28 315.63,547.81 315.78,547.33 315.93,546.86 316.08,546.38 316.23,545.91 316.38,545.43 316.53,544.95 316.68,544.48 316.83,544.00 316.98,543.53 317.13,543.05 317.28,542.58 317.43,542.10 317.57,541.63 317.72,541.15 317.87,540.68 318.02,540.20 318.17,539.73 318.32,539.25 318.47,538.78 318.61,538.30 318.76,537.83 318.91,537.35 319.06,536.88 319.21,536.41 319.35,535.93 319.50,535.46 319.65,534.98 319.80,534.51 319.95,534.03 320.09,533.56 320.24,533.08 320.39,532.61 320.54,532.14 320.68,531.66 320.83,531.19 320.98,530.71 321.13,530.24 321.27,529.76 321.42,529.29 321.57,528.82 321.72,528.34 321.86,527.87 322.01,527.39 322.16,526.92 322.31,526.45 322.45,525.97 322.60,525.50 322.75,525.02 322.90,524.55 323.04,524.08 323.19,523.60 323.34,523.13 323.49,522.65 323.63,522.18 323.78,521.71 323.93,521.23 324.08,520.76 324.22,520.29 324.37,519.81 324.52,519.34 324.67,518.86 324.81,518.39 324.96,517.92 325.11,517.44 325.26,516.97 325.40,516.50 325.55,516.02 325.70,515.55 325.85,515.08 326.00,514.60 326.14,514.13 326.29,513.66 326.44,513.18 326.59,512.71 326.74,512.24 326.88,511.76 327.03,511.29 327.18,510.82 327.33,510.34 327.48,509.87 327.63,509.40 327.78,508.92 327.92,508.45 328.07,507.98 328.22,507.50 328.37,507.03 328.52,506.56 328.67,506.08 328.82,505.61 328.97,505.14 329.12,504.66 329.27,504.19 329.42,503.72 329.57,503.24 329.72,502.77 329.87,502.30 330.02,501.82 330.17,501.35 330.32,500.88 330.47,500.40 330.62,499.93 330.77,499.46 330.92,498.98 331.07,498.51 331.22,498.04 331.38,497.56 331.53,497.09 331.68,496.62 331.83,496.15 331.98,495.67 332.13,495.20 332.29,494.73 332.44,494.25 332.59,493.78 332.74,493.31 332.90,492.83 333.05,492.36 333.20,491.89 333.36,491.41 333.51,490.94 333.66,490.47 333.82,489.99 333.97,489.52 334.13,489.05 334.28,488.57 334.43,488.10 334.59,487.63 334.74,487.15 334.90,486.68 335.06,486.21 335.21,485.73 335.37,485.26 335.52,484.79 335.68,484.31 335.84,483.84 335.99,483.37 336.15,482.89 336.31,482.42 336.46,481.95 336.62,481.47 336.78,481.00 336.94,480.53 337.09,480.05 337.25,479.58 337.41,479.11 337.57,478.63 337.73,478.16 337.89,477.69 338.05,477.21 338.21,476.74 338.37,476.26 338.53,475.79 338.69,475.32 338.85,474.84 339.01,474.37 339.17,473.90 339.33,473.42 339.49,472.95 339.66,472.48 339.82,472.00 339.98,471.53 340.14,471.05 340.31,470.58 340.47,470.11 340.63,469.63 340.80,469.16 340.96,468.68 341.13,468.21 341.29,467.74 341.46,467.26 341.62,466.79 341.79,466.31 341.95,465.84 342.12,465.37 342.29,464.89 342.45,464.42 342.62,463.94 342.79,463.47 342.96,463.00 343.12,462.52 343.29,462.05 343.46,461.57 343.63,461.10 343.80,460.63 343.97,460.15 344.14,459.68 344.31,459.21 344.48,458.73 344.66,458.26 344.83,457.79 345.00,457.31 345.17,456.84 345.35,456.37 345.52,455.89 345.69,455.42 345.87,454.95 346.04,454.48 346.22,454.01 346.40,453.53 346.57,453.06 346.75,452.59 346.93,452.12 347.10,451.65 347.28,451.18 347.46,450.71 347.64,450.24 347.82,449.77 348.00,449.30 348.18,448.83 348.37,448.36 348.55,447.89 348.73,447.42 348.91,446.95 349.10,446.48 349.28,446.01 349.47,445.55 349.65,445.08 349.84,444.61 350.02,444.14 350.21,443.68 350.40,443.21 350.59,442.75 350.78,442.28 350.97,441.82 351.16,441.35 351.35,440.89 351.54,440.42 351.73,439.96 351.92,439.49 352.12,439.03 352.31,438.57 352.51,438.11 352.70,437.65 352.90,437.18 353.10,436.72 353.29,436.26 353.49,435.80 353.69,435.34 353.89,434.88 354.09,434.43 354.29,433.97 354.49,433.51 354.70,433.05 354.90,432.60 355.10,432.14 355.31,431.68 355.51,431.23 355.72,430.77 355.93,430.32 356.13,429.87 356.34,429.41 356.55,428.96 356.76,428.51 356.97,428.06 357.19,427.61 357.40,427.15 357.61,426.70 357.83,426.26 358.04,425.81 358.26,425.36 358.47,424.91 358.69,424.47 358.91,424.02 359.13,423.57 359.35,423.13 359.57,422.68 359.79,422.24 360.02,421.80 360.24,421.36 360.46,420.91 360.69,420.47 360.92,420.03 361.14,419.59 361.37,419.15 361.60,418.72 361.83,418.28 362.06,417.84 362.29,417.41 362.53,416.97 362.76,416.54 363.00,416.10 363.23,415.67 363.47,415.24 363.71,414.80 363.95,414.37 364.19,413.94 364.43,413.51 364.67,413.08 364.92,412.65 365.16,412.21 365.41,411.78 365.65,411.35 365.90,410.92 366.15,410.49 366.41,410.06 366.66,409.63 366.91,409.20 367.17,408.77 367.43,408.34 367.68,407.91 367.94,407.48 368.21,407.05 368.47,406.62 368.73,406.19 369.00,405.76 369.27,405.33 369.54,404.89 369.81,404.46 370.08,404.03 370.35,403.59 370.63,403.16 370.90,402.73 371.18,402.29 371.46,401.85 371.75,401.42 372.03,400.98 372.32,400.54 372.61,400.10 372.90,399.67 373.19,399.23 373.49,398.80 373.78,398.36 374.08,397.93 374.39,397.50 374.69,397.08 375.00,396.65 375.31,396.23 375.63,395.81 375.94,395.39 376.27,394.98 376.59,394.57 376.92,394.17 377.25,393.77 377.58,393.37 377.92,392.98 378.26,392.60 378.61,392.22 378.96,391.85 379.31,391.48 379.67,391.12 380.03,390.76 380.40,390.42 380.77,390.07 381.15,389.74 381.53,389.42 381.91,389.10 382.30,388.79 382.70,388.49 383.10,388.20 383.50,387.92 383.91,387.65 384.33,387.38 384.75,387.13 385.18,386.89 385.61,386.66 386.05,386.43 386.49,386.22 386.94,386.03 387.39,385.84 387.85,385.67 388.31,385.50 388.78,385.35 389.25,385.22 389.73,385.10 390.21,384.99 390.69,384.90 391.17,384.82 391.66,384.76 392.15,384.71 392.64,384.68 393.14,384.67 393.63,384.67 394.13,384.69 394.62,384.73 395.12,384.78 395.61,384.85 396.11,384.94 396.61,385.04 397.10,385.15 397.59,385.28 398.08,385.42 398.57,385.57 399.06,385.74 399.54,385.91 400.02,386.10 400.50,386.29 400.97,386.50 401.44,386.71 401.91,386.93 402.37,387.16 402.82,387.40 403.27,387.64 403.71,387.89 404.15,388.14 404.58,388.40 405.00,388.67 405.43,388.94 405.84,389.22 406.25,389.50 406.66,389.79 407.06,390.08 407.45,390.38 407.84,390.69 408.23,391.00 408.61,391.31 408.99,391.63 409.36,391.95 409.73,392.28 410.09,392.62 410.45,392.96 410.80,393.30 411.15,393.65 411.50,394.00 411.84,394.35 412.17,394.71 412.51,395.08 412.84,395.44 413.16,395.82 413.48,396.19 413.80,396.57 414.12,396.96 414.43,397.34 414.73,397.73 415.04,398.13 415.34,398.52 415.64,398.92 415.93,399.33 416.22,399.73 416.51,400.14 416.79,400.56 417.08,400.97 417.36,401.39 417.63,401.81 417.90,402.23 418.18,402.66 418.44,403.09 418.71,403.52 418.97,403.95 419.23,404.38 419.49,404.82 419.75,405.26 420.00,405.70 420.26,406.14 420.51,406.58 420.75,407.03 421.00,407.47 421.24,407.92 421.49,408.37 421.73,408.82 421.97,409.28 422.21,409.73 422.44,410.18 422.68,410.64 422.91,411.09 423.14,411.55 423.37,412.01 423.61,412.46 423.83,412.92 424.06,413.38 424.29,413.84 424.52,414.30 424.74,414.76 424.97,415.22 425.19,415.67 425.41,416.13 425.64,416.59 425.86,417.05 426.08,417.51 426.30,417.97 426.53,418.42 426.75,418.88 426.97,419.34 427.19,419.79 427.41,420.25 427.63,420.70 427.85,421.16 428.07,421.61 428.29,422.07 428.50,422.52 428.72,422.98 428.94,423.43 429.15,423.89 429.37,424.34 429.59,424.79 429.80,425.25 430.02,425.70 430.23,426.15 430.44,426.61 430.66,427.06 430.87,427.51 431.08,427.97 431.29,428.42 431.50,428.87 431.71,429.32 431.92,429.78 432.13,430.23 432.34,430.68 432.55,431.13 432.76,431.59 432.96,432.04 433.17,432.49 433.38,432.94 433.58,433.39 433.79,433.85 433.99,434.30 434.19,434.75 434.40,435.20 434.60,435.66 434.80,436.11 435.00,436.56 435.20,437.02 435.40,437.47 435.60,437.92 435.80,438.37 436.00,438.83 436.19,439.28 436.39,439.74 436.58,440.19 436.78,440.64 436.97,441.10 437.17,441.55 437.36,442.01 437.55,442.46 437.74,442.92 437.93,443.38 438.12,443.83 438.31,444.29 438.50,444.74 438.69,445.20 438.87,445.66 439.06,446.12 439.25,446.57 439.43,447.03 439.61,447.49 439.80,447.95 439.98,448.41 440.16,448.87 440.34,449.33 440.52,449.79 440.70,450.25 440.88,450.72 441.05,451.18 441.23,451.64 441.40,452.10 441.58,452.57 441.75,453.03 441.92,453.50 442.10,453.96 442.27,454.43 442.44,454.89 442.61,455.36 442.77,455.83 442.94,456.30 443.11,456.76 443.28,457.23 443.44,457.70 443.61,458.17 443.77,458.64 443.93,459.11 444.10,459.58 444.26,460.05 444.42,460.52 444.58,461.00 444.74,461.47 444.90,461.94 445.06,462.41 445.22,462.89 445.37,463.36 445.53,463.84 445.69,464.31 445.84,464.79 446.00,465.26 446.15,465.74 446.30,466.21 446.46,466.69 446.61,467.17 446.76,467.64 446.92,468.12 447.07,468.60 447.22,469.07 447.37,469.55 447.52,470.03 447.67,470.51 447.82,470.99 447.97,471.47 448.12,471.94 448.27,472.42 448.41,472.90 448.56,473.38 448.71,473.86 448.86,474.34 449.00,474.82 449.15,475.30 449.29,475.78 449.44,476.26 449.59,476.75 449.73,477.23 449.88,477.71 450.02,478.19 450.17,478.67 450.31,479.15 450.46,479.63 450.60,480.11 450.74,480.60 450.89,481.08 451.03,481.56 451.18,482.04 451.32,482.52 451.46,483.01 451.61,483.49 451.75,483.97 451.89,484.45 452.04,484.94 452.18,485.42 452.32,485.90 452.47,486.38 452.61,486.86 452.75,487.35 452.90,487.83 453.04,488.31 453.18,488.79 453.33,489.28 453.47,489.76 453.61,490.24 453.76,490.72 453.90,491.20 454.05,491.68 454.19,492.17 454.33,492.65 454.48,493.13 454.62,493.61 454.77,494.09 454.91,494.57 455.06,495.05 455.20,495.54 455.35,496.02 455.50,496.50 455.64,496.98 455.79,497.46 455.93,497.94 456.08,498.42 456.23,498.90 456.37,499.38 456.52,499.86 456.67,500.34 456.81,500.82 456.96,501.30 457.11,501.78 457.26,502.26 457.40,502.74 457.55,503.22 457.70,503.70 457.85,504.18 458.00,504.66 458.15,505.14 458.29,505.62 458.44,506.10 458.59,506.58 458.74,507.05 458.89,507.53 459.04,508.01 459.19,508.49 459.34,508.97 459.49,509.45 459.64,509.93 459.79,510.40 459.94,510.88 460.09,511.36 460.24,511.84 460.39,512.32 460.54,512.79 460.69,513.27 460.85,513.75 461.00,514.23 461.15,514.71 461.30,515.18 461.45,515.66 461.60,516.14 461.76,516.62 461.91,517.09 462.06,517.57 462.21,518.05 462.37,518.52 462.52,519.00 462.67,519.48 462.83,519.95 462.98,520.43 463.13,520.91 463.29,521.38 463.44,521.86 463.60,522.34 463.75,522.81 463.91,523.29 464.06,523.76 464.22,524.24 464.37,524.72 464.53,525.19 464.68,525.67 464.84,526.14 464.99,526.62 465.15,527.09 465.30,527.57 465.46,528.04 465.62,528.52 465.77,528.99 465.93,529.47 466.09,529.94 466.24,530.42 466.40,530.89 466.56,531.37 466.71,531.84 466.87,532.32 467.03,532.79 467.19,533.27 467.35,533.74 467.50,534.22 467.66,534.69 467.82,535.16 467.98,535.64 468.14,536.11 468.30,536.59 468.46,537.06 468.61,537.53 468.77,538.01 468.93,538.48 469.09,538.96 469.25,539.43 469.41,539.90 469.57,540.38 469.73,540.85 469.89,541.32 470.06,541.80 470.22,542.27 470.38,542.74 470.54,543.21 470.70,543.69 470.86,544.16 471.02,544.63 471.18,545.10 471.35,545.58 471.51,546.05 471.67,546.52 471.83,546.99 472.00,547.47 472.16,547.94 472.32,548.41 472.48,548.88 472.65,549.35 472.81,549.83 472.97,550.30 473.14,550.77 473.30,551.24 473.47,551.71 473.63,552.19 473.79,552.66 473.96,553.13 474.12,553.60 474.29,554.07 474.45,554.54 474.62,555.01 474.78,555.48 474.95,555.95 475.11,556.43 475.28,556.90 475.45,557.37 475.61,557.84 475.78,558.31 475.94,558.78 476.11,559.25 476.28,559.72 476.44,560.19 476.61,560.66 476.78,561.13 476.95,561.60 477.11,562.07 477.28,562.54 477.45,563.01 477.62,563.48 477.79,563.95 477.95,564.42 478.12,564.89 478.29,565.36 478.46,565.83 478.63,566.30 478.80,566.77 478.97,567.24 479.13,567.71 479.30,568.18 479.47,568.65 479.64,569.12 479.81,569.59 479.98,570.06 480.15,570.53 480.32,571.00 480.49,571.46 480.66,571.93 480.83,572.40 481.00,572.87 481.17,573.34 481.34,573.81 481.51,574.28 481.68,574.75 481.85,575.22 482.02,575.69 482.19,576.16 482.36,576.63 482.53,577.10 482.70,577.57 482.87,578.04 483.04,578.51 483.22,578.98 483.39,579.45 483.56,579.92 483.73,580.39 483.90,580.85 484.07,581.32 484.24,581.79 484.41,582.26 484.58,582.73 484.75,583.20 484.92,583.67 485.09,584.14 485.26,584.61 485.43,585.08 485.60,585.56 485.77,586.03 485.95,586.50 486.12,586.97 486.29,587.44 486.46,587.91 486.63,588.38 486.80,588.85 486.97,589.32 487.14,589.79 487.31,590.26 487.48,590.73 487.65,591.21 487.82,591.68 487.99,592.15 488.16,592.62 488.33,593.09 488.50,593.56 488.67,594.04 488.83,594.51 489.00,594.98 489.17,595.45 489.34,595.92 489.51,596.40 489.68,596.87 489.85,597.34 490.02,597.82 490.19,598.29 490.35,598.76 490.52,599.23 490.69,599.71 490.86,600.18 491.03,600.66 491.19,601.13 491.36,601.60 491.53,602.08 491.70,602.55 491.86,603.03 492.03,603.50 492.20,603.98 492.36,604.45 492.53,604.93 492.69,605.40 492.86,605.88 493.03,606.35 493.19,606.83 493.36,607.31 493.52,607.78 493.69,608.26 493.85,608.74 494.02,609.21 494.18,609.69 494.35,610.17 494.52,610.64 494.68,611.12 494.85,611.59 495.02,612.07 495.19,612.54 495.35,613.02 495.52,613.49 495.70,613.96 495.87,614.44 496.04,614.91 496.22,615.38 496.39,615.85 496.57,616.32 496.75,616.79 496.93,617.25 497.12,617.72 497.30,618.18 497.49,618.65 497.68,619.11 497.87,619.57 498.06,620.03 498.26,620.48 498.46,620.94 498.66,621.39 498.86,621.85 499.07,622.30 499.28,622.75 499.49,623.19 499.71,623.64 499.93,624.08 500.15,624.52 500.38,624.96 500.60,625.40 500.84,625.83 501.07,626.27 501.31,626.69 501.56,627.12 501.80,627.55 502.06,627.97 502.31,628.39 502.57,628.80 502.84,629.22 503.11,629.63 503.38,630.04 503.66,630.44 503.94,630.84 504.23,631.24 504.52,631.64 504.82,632.03 505.12,632.42 505.43,632.81 505.74,633.19 506.06,633.57 506.38,633.94 506.71,634.31 507.05,634.68 507.39,635.05 507.73,635.41 508.09,635.76 508.44,636.12 508.81,636.47 509.18,636.81 509.56,637.15 509.94,637.49 510.33,637.82 510.73,638.15 511.13,638.47 511.54,638.79 511.96,639.10 512.38,639.41 512.82,639.72 513.30,640.00 513.87,639.91 514.35,639.75 514.83,639.59 515.31,639.41 515.78,639.23 516.24,639.05 516.70,638.86 517.16,638.66 517.61,638.45 518.06,638.24 518.50,638.02 518.94,637.80 519.37,637.57 519.81,637.34 520.23,637.10 520.66,636.85 521.08,636.60 521.49,636.34 521.90,636.08 522.31,635.81 522.72,635.54 523.12,635.27 523.52,634.99 523.92,634.70 524.32,634.41 524.71,634.12 525.10,633.82 525.49,633.52 525.87,633.22 526.25,632.91 526.63,632.60 527.01,632.29 527.39,631.97 527.77,631.65 528.14,631.33 528.51,631.00 528.89,630.67 529.26,630.34 529.63,630.01 529.99,629.68 530.36,629.34 530.73,629.00 531.10,628.66 531.46,628.32 531.83,627.97 532.19,627.63 532.56,627.28 532.92,626.94 533.29,626.59 533.65,626.24 534.02,625.89 534.38,625.54 534.75,625.19 535.12,624.84 535.48,624.49 535.85,624.14 536.22,623.79 536.59,623.44 536.97,623.09 537.34,622.74 537.71,622.39 538.09,622.04 538.47,621.70 538.85,621.35 539.23,621.01 539.62,620.67 540.00,620.33 540.39,619.99 540.78,619.65 541.17,619.32 541.57,618.98 541.97,618.65 542.37,618.32 542.77,618.00 543.18,617.67 543.59,617.35 544.01,617.04 544.42,616.72 544.84,616.41 545.27,616.10 545.69,615.80 546.12,615.50 546.55,615.20 546.99,614.91 547.43,614.63 547.87,614.35 548.31,614.07 548.75,613.80 549.20,613.53 549.65,613.27 550.10,613.02 550.55,612.77 551.01,612.53 551.47,612.30 551.93,612.07 552.39,611.85 552.85,611.64 553.32,611.43 553.78,611.23 554.25,611.04 554.72,610.86 555.19,610.69 555.66,610.52 556.13,610.37 556.61,610.22 557.08,610.08 557.56,609.96 558.04,609.84 558.51,609.73 558.99,609.63 559.47,609.54 559.95,609.46 560.43,609.40 560.91,609.34 561.39,609.30 561.87,609.26 562.36,609.24 562.84,609.23 563.32,609.23 563.80,609.24 564.28,609.26 564.76,609.29 565.24,609.33 565.71,609.38 566.19,609.45 566.66,609.52 567.14,609.60 567.61,609.69 568.08,609.80 568.55,609.91 569.01,610.03 569.48,610.16 569.94,610.31 570.40,610.46 570.86,610.62 571.31,610.79 571.76,610.97 572.21,611.16 572.66,611.35 573.10,611.56 573.53,611.77 573.97,612.00 574.40,612.23 574.83,612.47 575.25,612.72 575.67,612.98 576.09,613.24 576.50,613.51 576.91,613.79 577.32,614.08 577.72,614.37 578.12,614.67 578.52,614.97 578.91,615.29 579.31,615.60 579.70,615.93 580.08,616.25 580.47,616.59 580.85,616.92 581.23,617.27 581.61,617.61 581.99,617.96 582.36,618.32 582.73,618.68 583.11,619.04 583.47,619.40 583.84,619.77 584.21,620.14 584.57,620.51 584.94,620.89 585.30,621.27 585.66,621.64 586.02,622.03 586.38,622.41 586.74,622.79 587.10,623.18 587.45,623.56 587.81,623.95 588.16,624.34 588.52,624.73 588.87,625.12 589.22,625.51 589.57,625.90 589.93,626.30 590.28,626.69 590.63,627.08 590.98,627.48 591.33,627.87 591.68,628.26 592.03,628.66 592.38,629.05 592.73,629.44 593.07,629.83 593.42,630.23 593.77,630.62 594.12,631.01 594.47,631.40 594.82,631.78 595.17,632.17 595.52,632.55 595.87,632.94 596.22,633.32 596.58,633.70 596.93,634.08 597.28,634.46 597.64,634.83 597.99,635.20 598.34,635.57 598.70,635.94 599.06,636.31 599.41,636.67 599.77,637.03 600.13,637.39 600.49,637.74 600.85,638.10 601.22,638.44 601.58,638.79 601.95,639.13 602.31,639.47 602.68,639.80 603.05,640.14 603.42,640.46 603.79,640.79 604.17,641.11 604.54,641.42 604.92,641.73 605.30,642.04 605.68,642.34 606.06,642.64 606.45,642.93 606.84,643.22 607.23,643.50 607.62,643.78 608.01,644.05 608.40,644.31 608.80,644.58 609.20,644.83 609.60,645.08 610.01,645.33 610.41,645.56 610.82,645.80 611.24,646.02 611.65,646.24 612.07,646.46 612.49,646.66 612.91,646.86 613.33,647.06 613.76,647.25 614.19,647.43 614.63,647.60 615.07,647.76 615.51,647.92 615.95,648.07 616.40,648.22 616.85,648.35 617.30,648.48 617.75,648.60 618.21,648.72 618.68,648.82 619.14,648.92 619.61,649.00 620.09,649.08 620.57,649.16 621.05,649.22 621.53,649.27 622.02,649.32 622.51,649.36 623.00,649.39 623.50,649.41 624.00,649.42 624.49,649.43 625.00,649.43 625.50,649.42 626.01,649.40 626.51,649.38 627.02,649.35 627.53,649.31 628.04,649.27 628.55,649.21 629.06,649.15 629.57,649.09 630.08,649.02 630.59,648.94 631.11,648.85 631.62,648.76 632.13,648.66 632.64,648.56 633.14,648.45 633.65,648.33 634.16,648.21 634.66,648.08 635.16,647.95 635.66,647.81 636.16,647.67 636.66,647.52 637.15,647.36 637.64,647.20 638.13,647.04 638.62,646.87 639.10,646.70 639.59,646.52 640.07,646.33 640.55,646.15 641.02,645.96 641.50,645.76 641.98,645.57 642.45,645.36 642.92,645.16 643.39,644.95 643.86,644.74 644.32,644.53 644.79,644.31 645.25,644.10 645.72,643.88 646.18,643.65 646.64,643.43 647.10,643.21 647.56,642.98 648.01,642.75 648.47,642.52 648.93,642.29 649.38,642.06 649.84,641.82 650.29,641.59 650.74,641.36 651.20,641.13 651.65,640.89 652.10,640.66 652.55,640.43 653.00,640.19 653.46,639.96 653.91,639.73 654.36,639.50 654.81,639.27 655.26,639.04 655.71,638.82 656.16,638.59 656.61,638.37 657.06,638.15 657.52,637.93 657.97,637.71 658.42,637.50 658.87,637.29 659.33,637.08 659.78,636.87 660.24,636.67 660.69,636.47 661.15,636.28 661.60,636.08 662.06,635.90 662.52,635.71 662.98,635.53 663.44,635.36 663.90,635.18 664.37,635.02 664.83,634.86 665.30,634.70 665.77,634.55 666.23,634.40 666.70,634.26 667.18,634.12 667.65,633.99 668.12,633.87 668.60,633.75 669.08,633.64 669.56,633.54 670.04,633.44 670.52,633.35 671.01,633.26 671.50,633.19 671.99,633.12 672.48,633.05 672.97,632.99 673.46,632.94 673.96,632.90 674.46,632.86 674.95,632.83 675.45,632.80 675.95,632.78 676.45,632.77 676.95,632.77 677.45,632.77 677.95,632.77 678.46,632.78 678.96,632.80 679.46,632.82 679.96,632.85 680.47,632.89 680.97,632.93 681.47,632.98 681.97,633.03 682.48,633.09 682.98,633.15 683.48,633.22 683.98,633.29 684.48,633.37 684.97,633.46 685.47,633.55 685.97,633.64 686.46,633.75 686.95,633.85 687.45,633.96 687.94,634.08 688.43,634.20 688.91,634.32 689.40,634.46 689.88,634.59 690.37,634.73 690.85,634.87 691.33,635.02 691.81,635.18 692.28,635.33 692.76,635.49 693.23,635.66 693.71,635.83 694.18,636.00 694.65,636.18 695.12,636.36 695.58,636.54 696.05,636.73 696.52,636.92 696.98,637.11 697.44,637.31 697.91,637.51 698.37,637.71 698.83,637.92 699.29,638.13 699.75,638.34 700.20,638.55 700.66,638.77 701.12,638.99 701.57,639.21 702.02,639.44 702.48,639.66 702.93,639.89 703.38,640.12 703.83,640.35 704.28,640.58 704.73,640.82 705.18,641.06 705.63,641.30 706.08,641.54 706.52,641.78 706.97,642.02 707.42,642.26 707.86,642.51 708.31,642.75 708.75,643.00 709.20,643.25 709.64,643.50 710.09,643.74 710.53,643.99 710.97,644.24 711.42,644.49 711.86,644.74 712.30,644.99 712.75,645.24 713.19,645.49 713.63,645.74 714.07,645.99 714.52,646.24 714.96,646.49 715.40,646.74 715.84,646.99 716.29,647.23 716.73,647.48 717.17,647.73 717.61,647.97 718.06,648.21 718.50,648.46 718.94,648.70 719.39,648.94 719.83,649.18 720.28,649.41 720.72,649.65 721.17,649.88 721.61,650.11 722.06,650.34 722.50,650.57 722.95,650.79 723.40,651.02 723.85,651.24 724.29,651.45 724.74,651.66 725.19,651.87 725.64,652.08 726.10,652.28 726.55,652.48 727.00,652.67 727.46,652.86 727.91,653.04 728.37,653.22 728.82,653.39 729.28,653.56 729.74,653.72 730.20,653.87 730.66,654.02 731.13,654.16 731.59,654.29 732.06,654.42 732.52,654.54 732.99,654.65 733.46,654.75 733.93,654.85 734.41,654.94 734.88,655.02 735.36,655.09 735.83,655.15 736.31,655.20 736.79,655.25 737.27,655.29 737.75,655.32 738.24,655.35 738.72,655.37 739.20,655.38 739.69,655.38 740.18,655.38 740.66,655.37 741.15,655.35 741.64,655.33 742.13,655.31 742.62,655.27 743.11,655.23 743.60,655.19 744.09,655.14 744.58,655.08 745.08,655.02 745.57,654.95 746.06,654.88 746.55,654.81 747.04,654.73 747.54,654.64 748.03,654.55 748.52,654.46 749.01,654.36 749.51,654.26 750.00,654.15 750.49,654.04 750.98,653.93 751.47,653.82 751.96,653.70 752.45,653.57 752.94,653.45 753.43,653.32 753.92,653.19 754.40,653.06 754.89,652.92 755.37,652.79 755.86,652.65 756.34,652.51 756.83,652.36 757.31,652.22 757.80,652.07 758.28,651.92 758.76,651.77 759.24,651.62 759.73,651.46 760.21,651.31 760.69,651.15 761.17,650.99 761.65,650.83 762.14,650.67 762.62,650.51 763.10,650.35 763.58,650.19 764.06,650.02 764.54,649.86 765.02,649.70 765.51,649.53 765.99,649.37 766.47,649.20 766.95,649.04 767.43,648.87 767.92,648.71 768.40,648.54 768.88,648.38 769.37,648.21 769.85,648.05 770.34,647.89 770.82,647.73 771.31,647.57 771.80,647.41 772.28,647.25 772.77,647.09 773.26,646.93 773.75,646.78 774.24,646.62 774.73,646.47 775.22,646.32 775.71,646.17 776.20,646.02 776.70,645.87 777.19,645.73 777.68,645.59 778.18,645.45 778.67,645.31 779.17,645.18 779.66,645.05 780.16,644.92 780.65,644.79 781.15,644.67 781.65,644.55 782.14,644.44 782.64,644.32 783.14,644.21 783.63,644.11 784.13,644.00 784.63,643.91 785.13,643.81 785.62,643.72 786.12,643.63 786.62,643.55 787.12,643.47 787.61,643.40 788.11,643.33 788.61,643.27 789.10,643.21 789.60,643.15 790.10,643.11 790.59,643.06 791.09,643.02 791.58,642.99 792.08,642.96 792.57,642.94 793.07,642.92 793.56,642.91 794.06,642.91 794.55,642.91 795.04,642.91 795.54,642.92 796.03,642.94 796.52,642.96 797.01,642.99 797.50,643.02 797.99,643.06 798.48,643.10 798.97,643.14 799.46,643.19 799.95,643.25 800.44,643.31 800.93,643.37 801.42,643.44 801.91,643.51 802.39,643.59 802.88,643.67 803.37,643.75 803.86,643.84 804.34,643.93 804.83,644.03 805.32,644.13 805.80,644.23 806.29,644.34 806.77,644.45 807.26,644.56 807.74,644.68 808.23,644.80 808.71,644.92 809.20,645.04 809.68,645.17 810.17,645.30 810.65,645.43 811.13,645.57 811.62,645.71 812.10,645.85 812.58,645.99 813.07,646.14 813.55,646.28 814.03,646.43 814.51,646.58 815.00,646.74 815.48,646.89 815.96,647.05 816.44,647.20 816.93,647.36 817.41,647.52 817.89,647.69 818.37,647.85 818.85,648.01 819.33,648.18 819.81,648.35 820.29,648.51 820.78,648.68 821.26,648.85 821.74,649.02 822.22,649.19 822.70,649.36 823.18,649.53 823.66,649.70 824.14,649.87 824.62,650.04 825.10,650.21 825.58,650.38 826.06,650.56 826.54,650.73 827.02,650.90 827.51,651.07 827.99,651.24 828.47,651.40 828.95,651.57 829.43,651.74 829.91,651.91 830.39,652.07 830.87,652.24 831.35,652.40 831.83,652.56 832.31,652.72 832.79,652.88 833.27,653.04 833.75,653.19 834.24,653.35 834.72,653.50 835.20,653.65 835.68,653.80 836.16,653.95 836.64,654.09 837.12,654.24 837.61,654.38 838.09,654.52 838.57,654.65 839.05,654.78 839.53,654.92 840.02,655.04 840.50,655.17 840.98,655.29 841.46,655.41 841.95,655.53 842.43,655.64 842.91,655.75 843.40,655.86 843.88,655.96 844.37,656.06 844.85,656.15 845.33,656.25 845.82,656.33 846.30,656.42 846.79,656.50 847.27,656.58 847.76,656.65 848.25,656.72 848.73,656.78 849.22,656.84 849.70,656.90 850.19,656.95 850.68,656.99 851.17,657.03 851.65,657.07 852.14,657.10 852.63,657.13 853.12,657.15 853.61,657.17 854.10,657.18 854.58,657.19 855.07,657.19 855.56,657.19 856.05,657.19 856.54,657.18 857.03,657.16 857.53,657.14 858.02,657.12 858.51,657.09 859.00,657.06 859.49,657.03 859.98,656.99 860.47,656.95 860.97,656.91 861.46,656.86 861.95,656.81 862.44,656.75 862.93,656.70 863.43,656.64 863.92,656.57 864.41,656.51 864.91,656.44 865.40,656.36 865.89,656.29 866.39,656.21 866.88,656.13 867.37,656.05 867.87,655.96 868.36,655.88 868.85,655.79 869.35,655.70 869.84,655.61 870.33,655.51 870.83,655.41 871.32,655.32 871.82,655.22 872.31,655.11 872.80,655.01 873.30,654.91 873.79,654.80 874.29,654.69 874.78,654.59 875.27,654.48 875.77,654.37 876.26,654.26 876.75,654.15 877.25,654.03 877.74,653.92 878.23,653.81 878.73,653.69 879.22,653.58 879.71,653.47 880.21,653.35 880.70,653.24 881.19,653.12 881.68,653.01 882.18,652.89 882.67,652.78 883.16,652.67 883.65,652.55 884.14,652.44 884.63,652.33 885.13,652.22 885.62,652.11 886.11,652.00 886.60,651.89 887.09,651.78 887.58,651.67 888.07,651.57 888.56,651.47 889.05,651.36 889.54,651.26 890.03,651.16 890.52,651.06 891.00,651.00" stroke="#000" stroke-width="6.2" fill="none" stroke-dasharray="6.4 12.2" stroke-linecap="round"/>
<path d="M78.50,663.00L79.00,663.05 79.51,663.11 80.01,663.17 80.51,663.23 81.01,663.28 81.52,663.33 82.02,663.38 82.52,663.43 83.02,663.47 83.52,663.51 84.03,663.55 84.53,663.58 85.03,663.62 85.53,663.65 86.03,663.67 86.54,663.70 87.04,663.72 87.54,663.74 88.04,663.76 88.54,663.78 89.05,663.79 89.55,663.80 90.05,663.81 90.55,663.82 91.05,663.83 91.56,663.83 92.06,663.83 92.56,663.83 93.06,663.83 93.56,663.82 94.06,663.82 94.56,663.81 95.07,663.80 95.57,663.79 96.07,663.77 96.57,663.76 97.07,663.74 97.57,663.72 98.07,663.70 98.58,663.68 99.08,663.66 99.58,663.63 100.08,663.61 100.58,663.58 101.08,663.55 101.58,663.52 102.08,663.49 102.59,663.46 103.09,663.42 103.59,663.39 104.09,663.35 104.59,663.31 105.09,663.28 105.59,663.24 106.09,663.20 106.59,663.15 107.10,663.11 107.60,663.07 108.10,663.02 108.60,662.98 109.10,662.93 109.60,662.89 110.10,662.84 110.60,662.79 111.10,662.74 111.60,662.70 112.10,662.65 112.61,662.60 113.11,662.55 113.61,662.49 114.11,662.44 114.61,662.39 115.11,662.34 115.61,662.29 116.11,662.23 116.61,662.18 117.11,662.13 117.61,662.08 118.11,662.02 118.61,661.97 119.12,661.91 119.62,661.86 120.12,661.81 120.62,661.75 121.12,661.70 121.62,661.65 122.12,661.60 122.62,661.54 123.12,661.49 123.62,661.44 124.12,661.39 124.62,661.33 125.12,661.28 125.62,661.23 126.13,661.18 126.63,661.13 127.13,661.08 127.63,661.03 128.13,660.99 128.63,660.94 129.13,660.89 129.63,660.85 130.13,660.80 130.63,660.76 131.13,660.71 131.63,660.67 132.13,660.63 132.63,660.59 133.13,660.55 133.64,660.51 134.14,660.47 134.64,660.44 135.14,660.40 135.64,660.37 136.14,660.33 136.64,660.30 137.14,660.27 137.64,660.24 138.14,660.21 138.64,660.19 139.14,660.16 139.64,660.14 140.14,660.11 140.65,660.09 141.15,660.07 141.65,660.06 142.15,660.04 142.65,660.03 143.15,660.01 143.65,660.00 144.15,659.99 144.65,659.99 145.15,659.98 145.65,659.98 146.15,659.98 146.66,659.98 147.16,659.98 147.66,659.98 148.16,659.99 148.66,660.00 149.16,660.01 149.66,660.02 150.16,660.04 150.66,660.05 151.16,660.07 151.67,660.10 152.17,660.12 152.67,660.15 153.17,660.17 153.67,660.20 154.17,660.23 154.67,660.27 155.17,660.30 155.67,660.34 156.18,660.38 156.68,660.42 157.18,660.46 157.68,660.50 158.18,660.54 158.68,660.59 159.18,660.64 159.68,660.68 160.18,660.73 160.69,660.78 161.19,660.83 161.69,660.88 162.19,660.94 162.69,660.99 163.19,661.04 163.69,661.10 164.19,661.16 164.69,661.21 165.19,661.27 165.70,661.33 166.20,661.38 166.70,661.44 167.20,661.50 167.70,661.56 168.20,661.62 168.70,661.68 169.20,661.74 169.70,661.80 170.20,661.85 170.70,661.91 171.20,661.97 171.71,662.03 172.21,662.09 172.71,662.15 173.21,662.21 173.71,662.26 174.21,662.32 174.71,662.38 175.21,662.43 175.71,662.49 176.21,662.54 176.71,662.59 177.21,662.65 177.71,662.70 178.21,662.75 178.71,662.80 179.21,662.85 179.71,662.90 180.21,662.94 180.71,662.99 181.21,663.03 181.71,663.07 182.21,663.11 182.71,663.15 183.21,663.19 183.71,663.23 184.21,663.26 184.71,663.30 185.21,663.33 185.70,663.36 186.20,663.39 186.70,663.41 187.20,663.43 187.70,663.46 188.20,663.48 188.70,663.49 189.20,663.51 189.70,663.52 190.19,663.53 190.69,663.54 191.19,663.55 191.69,663.55 192.19,663.55 192.69,663.55 193.18,663.54 193.68,663.54 194.18,663.52 194.68,663.51 195.17,663.50 195.67,663.48 196.17,663.45 196.67,663.43 197.16,663.40 197.66,663.37 198.16,663.34 198.66,663.30 199.15,663.27 199.65,663.23 200.15,663.18 200.64,663.14 201.14,663.09 201.64,663.04 202.13,662.99 202.63,662.93 203.13,662.88 203.62,662.82 204.12,662.76 204.61,662.70 205.11,662.63 205.61,662.57 206.10,662.50 206.60,662.43 207.10,662.36 207.59,662.29 208.09,662.22 208.58,662.14 209.08,662.06 209.57,661.99 210.07,661.91 210.57,661.83 211.06,661.75 211.56,661.66 212.05,661.58 212.55,661.49 213.04,661.41 213.54,661.32 214.03,661.24 214.53,661.15 215.02,661.06 215.52,660.97 216.01,660.88 216.51,660.79 217.00,660.70 217.50,660.61 217.99,660.52 218.49,660.43 218.98,660.34 219.48,660.24 219.97,660.15 220.47,660.06 220.96,659.97 221.46,659.87 221.95,659.78 222.45,659.69 222.94,659.60 223.44,659.50 223.93,659.41 224.43,659.32 224.92,659.22 225.42,659.13 225.91,659.04 226.41,658.95 226.90,658.85 227.40,658.76 227.89,658.67 228.39,658.58 228.88,658.49 229.38,658.40 229.87,658.31 230.37,658.22 230.86,658.13 231.36,658.04 231.85,657.95 232.35,657.86 232.84,657.77 233.34,657.69 233.83,657.60 234.33,657.51 234.82,657.43 235.32,657.34 235.81,657.26 236.31,657.17 236.80,657.09 237.30,657.01 237.79,656.93 238.29,656.85 238.78,656.77 239.28,656.69 239.77,656.61 240.27,656.54 240.76,656.46 241.26,656.39 241.75,656.31 242.25,656.24 242.74,656.17 243.24,656.10 243.73,656.03 244.23,655.96 244.72,655.89 245.22,655.83 245.72,655.76 246.21,655.70 246.71,655.64 247.20,655.58 247.70,655.52 248.19,655.46 248.69,655.40 249.19,655.35 249.68,655.29 250.18,655.24 250.67,655.19 251.17,655.14 251.66,655.09 252.16,655.05 252.66,655.00 253.15,654.96 253.65,654.92 254.15,654.88 254.64,654.84 255.14,654.81 255.63,654.77 256.13,654.74 256.63,654.71 257.12,654.68 257.62,654.66 258.12,654.63 258.61,654.61 259.11,654.59 259.61,654.57 260.11,654.55 260.60,654.54 261.10,654.53 261.60,654.51 262.09,654.51 262.59,654.50 263.09,654.50 263.59,654.50 264.08,654.50 264.58,654.50 265.08,654.50 265.58,654.51 266.07,654.52 266.57,654.54 267.07,654.55 267.57,654.57 268.07,654.59 268.57,654.61 269.06,654.63 269.56,654.66 270.06,654.69 270.56,654.73 271.06,654.76 271.56,654.80 272.06,654.84 272.55,654.88 273.05,654.93 273.55,654.98 274.05,655.03 274.55,655.09 275.05,655.14 275.55,655.20 276.05,655.27 276.55,655.33 277.05,655.40 277.55,655.47 278.05,655.54 278.55,655.62 279.05,655.69 279.55,655.77 280.05,655.85 280.55,655.94 281.05,656.02 281.55,656.11 282.05,656.19 282.55,656.28 283.05,656.37 283.55,656.47 284.05,656.56 284.55,656.66 285.05,656.75 285.55,656.85 286.05,656.95 286.55,657.05 287.05,657.15 287.55,657.25 288.05,657.35 288.55,657.45 289.04,657.56 289.54,657.66 290.04,657.76 290.54,657.87 291.04,657.97 291.54,658.08 292.04,658.18 292.54,658.29 293.03,658.39 293.53,658.50 294.03,658.60 294.53,658.71 295.03,658.81 295.52,658.91 296.02,659.02 296.52,659.12 297.01,659.22 297.51,659.32 298.01,659.42 298.50,659.52 299.00,659.62 299.49,659.72 299.99,659.81 300.49,659.91 300.98,660.00 301.48,660.09 301.97,660.18 302.46,660.27 302.96,660.36 303.45,660.45 303.94,660.53 304.44,660.61 304.93,660.69 305.42,660.77 305.91,660.85 306.41,660.92 306.90,661.00 307.39,661.07 307.88,661.13 308.37,661.20 308.86,661.26 309.35,661.32 309.84,661.38 310.33,661.43 310.82,661.48 311.30,661.50 311.73,661.16 312.19,660.99 312.66,660.81 313.13,660.63 313.59,660.44 314.06,660.26 314.52,660.07 314.98,659.88 315.44,659.69 315.90,659.50 316.36,659.30 316.82,659.10 317.27,658.90 317.73,658.70 318.19,658.50 318.64,658.29 319.09,658.08 319.54,657.87 319.99,657.66 320.44,657.44 320.89,657.22 321.34,657.01 321.79,656.79 322.24,656.56 322.68,656.34 323.13,656.11 323.57,655.89 324.01,655.66 324.46,655.43 324.90,655.19 325.34,654.96 325.78,654.72 326.22,654.49 326.66,654.25 327.10,654.01 327.53,653.76 327.97,653.52 328.40,653.27 328.84,653.03 329.27,652.78 329.71,652.53 330.14,652.28 330.57,652.03 331.01,651.77 331.44,651.52 331.87,651.26 332.30,651.00 332.73,650.75 333.16,650.49 333.59,650.23 334.01,649.96 334.44,649.70 334.87,649.44 335.29,649.17 335.72,648.90 336.15,648.64 336.57,648.37 337.00,648.10 337.42,647.83 337.84,647.56 338.27,647.29 338.69,647.01 339.11,646.74 339.53,646.47 339.96,646.19 340.38,645.92 340.80,645.64 341.22,645.36 341.64,645.09 342.06,644.81 342.48,644.53 342.90,644.25 343.32,643.97 343.74,643.69 344.16,643.41 344.58,643.12 345.00,642.84 345.41,642.56 345.83,642.28 346.25,641.99 346.67,641.71 347.09,641.43 347.50,641.14 347.92,640.86 348.34,640.57 348.76,640.29 349.17,640.00 349.59,639.72 350.01,639.43 350.42,639.15 350.84,638.86 351.26,638.58 351.68,638.29 352.09,638.01 352.51,637.72 352.93,637.44 353.34,637.15 353.76,636.87 354.18,636.58 354.59,636.30 355.01,636.01 355.43,635.73 355.85,635.44 356.27,635.16 356.68,634.88 357.10,634.59 357.52,634.31 357.94,634.03 358.36,633.75 358.77,633.47 359.19,633.18 359.61,632.90 360.03,632.62 360.45,632.34 360.87,632.07 361.29,631.79 361.71,631.51 362.13,631.23 362.55,630.96 362.98,630.68 363.40,630.41 363.82,630.13 364.24,629.86 364.67,629.59 365.09,629.31 365.51,629.04 365.94,628.77 366.36,628.50 366.79,628.24 367.21,627.97 367.64,627.70 368.06,627.44 368.49,627.17 368.92,626.91 369.35,626.65 369.77,626.39 370.20,626.13 370.63,625.87 371.06,625.61 371.49,625.36 371.92,625.10 372.36,624.85 372.79,624.60 373.22,624.35 373.66,624.10 374.09,623.85 374.53,623.60 374.96,623.36 375.40,623.11 375.83,622.87 376.27,622.63 376.71,622.39 377.15,622.15 377.59,621.92 378.03,621.68 378.47,621.45 378.91,621.22 379.36,620.99 379.80,620.76 380.25,620.54 380.69,620.31 381.14,620.09 381.58,619.87 382.03,619.65 382.48,619.44 382.93,619.22 383.38,619.01 383.83,618.80 384.29,618.59 384.74,618.38 385.20,618.18 385.65,617.98 386.11,617.78 386.56,617.58 387.02,617.38 387.48,617.19 387.94,617.00 388.41,616.81 388.87,616.62 389.33,616.44 389.80,616.26 390.26,616.08 390.73,615.90 391.20,615.72 391.67,615.55 392.14,615.38 392.61,615.21 393.08,615.05 393.55,614.88 394.03,614.72 394.50,614.56 394.98,614.41 395.46,614.25 395.93,614.10 396.41,613.95 396.89,613.81 397.37,613.66 397.85,613.52 398.34,613.39 398.82,613.25 399.30,613.12 399.79,612.98 400.27,612.86 400.76,612.73 401.25,612.61 401.73,612.49 402.22,612.37 402.71,612.25 403.20,612.14 403.69,612.03 404.18,611.92 404.67,611.82 405.16,611.72 405.65,611.62 406.15,611.52 406.64,611.42 407.13,611.33 407.63,611.24 408.12,611.16 408.62,611.07 409.11,610.99 409.61,610.91 410.10,610.84 410.60,610.76 411.10,610.69 411.59,610.63 412.09,610.56 412.59,610.50 413.09,610.44 413.59,610.39 414.08,610.33 414.58,610.28 415.08,610.23 415.58,610.19 416.08,610.15 416.58,610.11 417.08,610.07 417.58,610.04 418.08,610.01 418.58,609.98 419.08,609.95 419.58,609.93 420.08,609.91 420.58,609.89 421.08,609.88 421.58,609.87 422.08,609.86 422.58,609.86 423.08,609.86 423.58,609.86 424.08,609.86 424.58,609.87 425.07,609.88 425.57,609.89 426.07,609.91 426.57,609.93 427.07,609.95 427.57,609.97 428.06,610.00 428.56,610.03 429.06,610.07 429.56,610.10 430.05,610.14 430.55,610.19 431.04,610.23 431.54,610.28 432.03,610.34 432.53,610.39 433.02,610.45 433.52,610.51 434.01,610.58 434.50,610.65 434.99,610.72 435.48,610.79 435.98,610.87 436.47,610.95 436.96,611.03 437.45,611.12 437.93,611.21 438.42,611.31 438.91,611.40 439.40,611.50 439.88,611.61 440.37,611.71 440.85,611.82 441.33,611.94 441.82,612.05 442.30,612.17 442.78,612.29 443.26,612.42 443.74,612.55 444.22,612.68 444.70,612.82 445.17,612.96 445.65,613.10 446.12,613.25 446.60,613.40 447.07,613.55 447.54,613.71 448.01,613.87 448.48,614.03 448.95,614.20 449.42,614.37 449.89,614.54 450.35,614.72 450.82,614.90 451.28,615.08 451.74,615.27 452.20,615.46 452.66,615.65 453.12,615.85 453.58,616.05 454.04,616.26 454.49,616.46 454.95,616.68 455.40,616.89 455.85,617.11 456.30,617.33 456.75,617.56 457.20,617.79 457.64,618.02 458.09,618.26 458.53,618.50 458.97,618.74 459.41,618.99 459.85,619.24 460.28,619.49 460.72,619.75 461.15,620.01 461.59,620.28 462.02,620.54 462.45,620.81 462.88,621.09 463.31,621.36 463.73,621.64 464.16,621.92 464.58,622.20 465.01,622.49 465.43,622.77 465.85,623.06 466.27,623.35 466.69,623.64 467.11,623.94 467.53,624.23 467.95,624.53 468.37,624.82 468.78,625.12 469.20,625.42 469.62,625.71 470.03,626.01 470.45,626.31 470.86,626.61 471.28,626.91 471.69,627.20 472.11,627.50 472.52,627.80 472.94,628.09 473.35,628.39 473.76,628.68 474.18,628.98 474.59,629.27 475.01,629.56 475.42,629.85 475.84,630.14 476.25,630.42 476.67,630.71 477.08,630.99 477.50,631.27 477.92,631.55 478.34,631.82 478.75,632.10 479.17,632.37 479.59,632.64 480.01,632.90 480.43,633.17 480.85,633.43 481.27,633.70 481.69,633.96 482.11,634.22 482.53,634.48 482.95,634.74 483.37,634.99 483.79,635.25 484.22,635.51 484.64,635.76 485.06,636.02 485.48,636.27 485.90,636.52 486.33,636.78 486.75,637.03 487.17,637.28 487.59,637.53 488.02,637.79 488.44,638.04 488.86,638.29 489.28,638.55 489.71,638.80 490.13,639.06 490.55,639.31 490.97,639.57 491.39,639.82 491.82,640.08 492.24,640.34 492.66,640.60 493.08,640.86 493.50,641.12 493.92,641.39 494.34,641.65 494.76,641.92 495.18,642.19 495.60,642.46 496.02,642.73 496.44,643.01 496.86,643.28 497.28,643.56 497.69,643.84 498.11,644.12 498.53,644.41 498.95,644.69 499.36,644.98 499.78,645.26 500.20,645.55 500.61,645.84 501.03,646.13 501.45,646.42 501.86,646.71 502.28,647.00 502.70,647.29 503.11,647.59 503.53,647.88 503.95,648.17 504.37,648.46 504.79,648.75 505.20,649.05 505.62,649.34 506.04,649.63 506.46,649.92 506.88,650.20 507.30,650.49 507.72,650.78 508.14,651.06 508.56,651.35 508.99,651.63 509.41,651.91 509.83,652.19 510.26,652.47 510.68,652.75 511.11,653.02 511.53,653.29 511.96,653.56 512.39,653.83 512.82,654.09 513.25,654.36 513.68,654.62 514.11,654.87 514.54,655.13 514.98,655.38 515.41,655.62 515.85,655.87 516.28,656.11 516.72,656.35 517.16,656.58 517.60,656.81 518.04,657.03 518.49,657.25 518.93,657.46 519.38,657.67 519.83,657.87 520.27,658.06 520.73,658.25 521.18,658.44 521.63,658.61 522.09,658.78 522.55,658.95 523.01,659.10 523.47,659.25 523.93,659.39 524.40,659.52 524.86,659.65 525.33,659.76 525.80,659.87 526.28,659.98 526.75,660.07 527.23,660.16 527.70,660.24 528.18,660.31 528.66,660.38 529.14,660.44 529.63,660.50 530.11,660.55 530.60,660.59 531.08,660.63 531.57,660.66 532.06,660.69 532.55,660.71 533.04,660.72 533.53,660.73 534.03,660.74 534.52,660.74 535.01,660.73 535.51,660.72 536.01,660.71 536.50,660.69 537.00,660.67 537.50,660.64 538.00,660.61 538.49,660.58 538.99,660.54 539.49,660.50 539.99,660.46 540.49,660.41 540.99,660.36 541.49,660.30 541.99,660.25 542.49,660.19 542.99,660.13 543.49,660.06 543.99,660.00 544.49,659.93 544.99,659.86 545.49,659.78 545.99,659.71 546.49,659.63 546.99,659.55 547.49,659.47 547.99,659.39 548.49,659.30 548.99,659.22 549.49,659.13 549.99,659.04 550.49,658.95 550.99,658.86 551.49,658.77 551.99,658.68 552.49,658.59 552.99,658.49 553.49,658.40 553.99,658.30 554.49,658.21 554.99,658.11 555.49,658.01 555.98,657.92 556.48,657.82 556.98,657.72 557.48,657.63 557.98,657.53 558.48,657.43 558.98,657.34 559.48,657.24 559.98,657.14 560.47,657.05 560.97,656.95 561.47,656.86 561.97,656.77 562.47,656.67 562.97,656.58 563.47,656.49 563.96,656.40 564.46,656.32 564.96,656.23 565.46,656.14 565.96,656.06 566.45,655.98 566.95,655.90 567.45,655.82 567.95,655.74 568.45,655.67 568.94,655.60 569.44,655.53 569.94,655.46 570.44,655.39 570.93,655.33 571.43,655.27 571.93,655.21 572.43,655.15 572.92,655.10 573.42,655.05 573.92,655.00 574.41,654.95 574.91,654.91 575.41,654.87 575.90,654.84 576.40,654.81 576.90,654.78 577.39,654.75 577.89,654.73 578.39,654.71 578.88,654.70 579.38,654.69 579.87,654.68 580.37,654.68 580.87,654.68 581.36,654.69 581.86,654.70 582.35,654.71 582.85,654.73 583.34,654.75 583.84,654.77 584.34,654.80 584.83,654.83 585.33,654.87 585.82,654.91 586.32,654.95 586.81,654.99 587.31,655.04 587.80,655.09 588.30,655.14 588.79,655.20 589.29,655.26 589.78,655.32 590.27,655.38 590.77,655.45 591.26,655.52 591.76,655.59 592.25,655.66 592.75,655.74 593.24,655.82 593.74,655.90 594.23,655.98 594.72,656.07 595.22,656.15 595.71,656.24 596.21,656.33 596.70,656.42 597.20,656.52 597.69,656.61 598.18,656.71 598.68,656.80 599.17,656.90 599.67,657.00 600.16,657.10 600.65,657.21 601.15,657.31 601.64,657.41 602.13,657.52 602.63,657.62 603.12,657.73 603.62,657.84 604.11,657.94 604.60,658.05 605.10,658.16 605.59,658.27 606.09,658.38 606.58,658.49 607.07,658.60 607.57,658.71 608.06,658.82 608.55,658.93 609.05,659.04 609.54,659.14 610.04,659.25 610.53,659.36 611.02,659.47 611.52,659.58 612.01,659.68 612.50,659.79 613.00,659.89 613.49,660.00 613.99,660.10 614.48,660.20 614.97,660.30 615.47,660.40 615.96,660.50 616.46,660.60 616.95,660.70 617.44,660.79 617.94,660.89 618.43,660.98 618.93,661.07 619.42,661.16 619.92,661.24 620.41,661.33 620.90,661.41 621.40,661.49 621.89,661.57 622.39,661.65 622.88,661.72 623.38,661.79 623.87,661.86 624.37,661.93 624.86,662.00 625.36,662.06 625.85,662.12 626.35,662.17 626.84,662.23 627.34,662.28 627.83,662.33 628.33,662.37 628.82,662.41 629.32,662.45 629.81,662.49 630.31,662.52 630.80,662.55 631.30,662.57 631.79,662.59 632.29,662.61 632.79,662.63 633.28,662.64 633.78,662.65 634.27,662.66 634.77,662.66 635.27,662.67 635.76,662.67 636.26,662.66 636.76,662.66 637.25,662.65 637.75,662.64 638.25,662.63 638.74,662.61 639.24,662.60 639.74,662.58 640.23,662.56 640.73,662.53 641.23,662.51 641.72,662.48 642.22,662.46 642.72,662.43 643.22,662.40 643.71,662.37 644.21,662.33 644.71,662.30 645.21,662.26 645.70,662.23 646.20,662.19 646.70,662.15 647.20,662.11 647.69,662.07 648.19,662.03 648.69,661.99 649.19,661.95 649.69,661.91 650.19,661.87 650.68,661.82 651.18,661.78 651.68,661.74 652.18,661.69 652.68,661.65 653.18,661.61 653.67,661.56 654.17,661.52 654.67,661.48 655.17,661.44 655.67,661.40 656.17,661.35 656.67,661.31 657.17,661.27 657.67,661.24 658.17,661.20 658.67,661.16 659.17,661.12 659.66,661.09 660.16,661.06 660.66,661.02 661.16,660.99 661.66,660.96 662.16,660.93 662.66,660.90 663.16,660.88 663.66,660.85 664.16,660.83 664.66,660.80 665.16,660.78 665.66,660.76 666.16,660.74 666.66,660.72 667.16,660.70 667.67,660.68 668.17,660.66 668.67,660.65 669.17,660.63 669.67,660.62 670.17,660.60 670.67,660.59 671.17,660.58 671.67,660.57 672.17,660.56 672.67,660.55 673.17,660.54 673.67,660.53 674.17,660.52 674.68,660.52 675.18,660.51 675.68,660.51 676.18,660.50 676.68,660.50 677.18,660.49 677.68,660.49 678.18,660.49 678.69,660.49 679.19,660.48 679.69,660.48 680.19,660.48 680.69,660.48 681.19,660.48 681.69,660.48 682.19,660.48 682.70,660.49 683.20,660.49 683.70,660.49 684.20,660.49 684.70,660.50 685.20,660.50 685.71,660.50 686.21,660.51 686.71,660.51 687.21,660.51 687.71,660.52 688.21,660.52 688.71,660.53 689.22,660.53 689.72,660.54 690.22,660.54 690.72,660.55 691.22,660.55 691.72,660.56 692.23,660.56 692.73,660.57 693.23,660.58 693.73,660.58 694.23,660.59 694.73,660.59 695.24,660.60 695.74,660.60 696.24,660.61 696.74,660.61 697.24,660.62 697.74,660.62 698.25,660.62 698.75,660.63 699.25,660.63 699.75,660.64 700.25,660.64 700.75,660.64 701.25,660.65 701.76,660.65 702.26,660.65 702.76,660.65 703.26,660.65 703.76,660.66 704.26,660.66 704.76,660.66 705.26,660.66 705.77,660.66 706.27,660.66 706.77,660.66 707.27,660.66 707.77,660.66 708.27,660.66 708.77,660.66 709.27,660.66 709.78,660.66 710.28,660.66 710.78,660.66 711.28,660.66 711.78,660.65 712.28,660.65 712.78,660.65 713.28,660.65 713.78,660.65 714.29,660.65 714.79,660.64 715.29,660.64 715.79,660.64 716.29,660.64 716.79,660.63 717.29,660.63 717.79,660.63 718.29,660.63 718.79,660.62 719.30,660.62 719.80,660.62 720.30,660.61 720.80,660.61 721.30,660.61 721.80,660.61 722.30,660.60 722.80,660.60 723.30,660.60 723.80,660.59 724.30,660.59 724.81,660.59 725.31,660.58 725.81,660.58 726.31,660.58 726.81,660.57 727.31,660.57 727.81,660.57 728.31,660.57 728.81,660.56 729.31,660.56 729.81,660.56 730.31,660.56 730.81,660.55 731.32,660.55 731.82,660.55 732.32,660.55 732.82,660.54 733.32,660.54 733.82,660.54 734.32,660.54 734.82,660.54 735.32,660.53 735.82,660.53 736.32,660.53 736.82,660.53 737.32,660.53 737.82,660.53 738.33,660.53 738.83,660.53 739.33,660.53 739.83,660.53 740.33,660.53 740.83,660.53 741.33,660.53 741.83,660.53 742.33,660.53 742.83,660.53 743.33,660.53 743.83,660.53 744.33,660.53 744.83,660.53 745.33,660.54 745.84,660.54 746.34,660.54 746.84,660.54 747.34,660.54 747.84,660.55 748.34,660.55 748.84,660.55 749.34,660.56 749.84,660.56 750.34,660.56 750.84,660.57 751.34,660.57 751.84,660.57 752.34,660.58 752.84,660.58 753.34,660.59 753.85,660.59 754.35,660.60 754.85,660.60 755.35,660.61 755.85,660.61 756.35,660.62 756.85,660.62 757.35,660.63 757.85,660.63 758.35,660.64 758.85,660.65 759.35,660.65 759.85,660.66 760.35,660.67 760.85,660.67 761.35,660.68 761.85,660.69 762.36,660.69 762.86,660.70 763.36,660.71 763.86,660.72 764.36,660.72 764.86,660.73 765.36,660.74 765.86,660.75 766.36,660.76 766.86,660.76 767.36,660.77 767.86,660.78 768.36,660.79 768.86,660.80 769.36,660.81 769.86,660.82 770.36,660.83 770.86,660.84 771.37,660.84 771.87,660.85 772.37,660.86 772.87,660.87 773.37,660.88 773.87,660.89 774.37,660.90 774.87,660.91 775.37,660.92 775.87,660.94 776.37,660.95 776.87,660.96 777.37,660.97 777.87,660.98 778.37,660.99 778.87,661.00 779.37,661.01 779.87,661.02 780.37,661.03 780.87,661.05 781.38,661.06 781.88,661.07 782.38,661.08 782.88,661.09 783.38,661.10 783.88,661.12 784.38,661.13 784.88,661.14 785.38,661.15 785.88,661.17 786.38,661.18 786.88,661.19 787.38,661.20 787.88,661.22 788.38,661.23 788.88,661.24 789.38,661.26 789.88,661.27 790.38,661.28 790.88,661.30 791.39,661.31 791.89,661.32 792.39,661.34 792.89,661.35 793.39,661.36 793.89,661.38 794.39,661.39 794.89,661.40 795.39,661.42 795.89,661.43 796.39,661.45 796.89,661.46 797.39,661.48 797.89,661.49 798.39,661.50 798.89,661.52 799.39,661.53 799.89,661.55 800.39,661.56 800.89,661.58 801.40,661.59 801.90,661.61 802.40,661.62 802.90,661.64 803.40,661.65 803.90,661.67 804.40,661.68 804.90,661.70 805.40,661.71 805.90,661.73 806.40,661.74 806.90,661.76 807.40,661.77 807.90,661.79 808.40,661.80 808.90,661.82 809.40,661.83 809.90,661.85 810.40,661.86 810.90,661.88 811.40,661.89 811.91,661.91 812.41,661.93 812.91,661.94 813.41,661.96 813.91,661.97 814.41,661.99 814.91,662.00 815.41,662.02 815.91,662.04 816.41,662.05 816.91,662.07 817.41,662.08 817.91,662.10 818.41,662.12 818.91,662.13 819.41,662.15 819.91,662.16 820.41,662.18 820.91,662.20 821.41,662.21 821.91,662.23 822.41,662.24 822.92,662.26 823.42,662.28 823.92,662.29 824.42,662.31 824.92,662.32 825.42,662.34 825.92,662.36 826.42,662.37 826.92,662.39 827.42,662.40 827.92,662.42 828.42,662.44 828.92,662.45 829.42,662.47 829.92,662.48 830.42,662.50 830.92,662.52 831.42,662.53 831.92,662.55 832.42,662.56 832.93,662.58 833.43,662.60 833.93,662.61 834.43,662.63 834.93,662.64 835.43,662.66 835.93,662.68 836.43,662.69 836.93,662.71 837.43,662.72 837.93,662.74 838.43,662.75 838.93,662.77 839.43,662.79 839.93,662.80 840.43,662.82 840.93,662.83 841.43,662.85 841.93,662.86 842.43,662.88 842.93,662.89 843.44,662.91 843.94,662.93 844.44,662.94 844.94,662.96 845.44,662.97 845.94,662.99 846.44,663.00 846.94,663.02 847.44,663.03 847.94,663.05 848.44,663.06 848.94,663.08 849.44,663.09 849.94,663.11 850.44,663.12 850.94,663.14 851.44,663.15 851.94,663.17 852.44,663.18 852.95,663.20 853.45,663.21 853.95,663.22 854.45,663.24 854.95,663.25 855.45,663.27 855.95,663.28 856.45,663.30 856.95,663.31 857.45,663.32 857.95,663.34 858.45,663.35 858.95,663.37 859.45,663.38 859.95,663.39 860.45,663.41 860.95,663.42 861.45,663.43 861.96,663.45 862.46,663.46 862.96,663.47 863.46,663.49 863.96,663.50 864.46,663.51 864.96,663.53 865.46,663.54 865.96,663.55 866.46,663.56 866.96,663.58 867.46,663.59 867.96,663.60 868.46,663.61 868.96,663.63 869.46,663.64 869.96,663.65 870.46,663.66 870.97,663.67 871.47,663.69 871.97,663.70 872.47,663.71 872.97,663.72 873.47,663.73 873.97,663.74 874.47,663.75 874.97,663.76 875.47,663.78 875.97,663.79 876.47,663.80 876.97,663.81 877.47,663.82 877.97,663.83 878.47,663.84 878.98,663.85 879.48,663.86 879.98,663.87 880.48,663.88 880.98,663.89 881.48,663.90 881.98,663.91 882.48,663.92 882.98,663.93 883.48,663.93 883.98,663.94 884.48,663.95 884.98,663.96 885.48,663.97 885.98,663.98 886.48,663.99 886.99,664.00 887.49,664.00 887.99,664.01 888.49,664.02 888.99,664.03 889.49,664.03 889.99,664.04 890.49,664.05 890.99,664.06 891.49,664.06 891.99,664.07 892.49,664.08 892.99,664.08 893.49,664.09 894.00,664.10 894.50,664.10 895.00,664.00" stroke="#000" stroke-width="7.9" fill="none" stroke-dasharray="0 9.3" stroke-linecap="round"/>
<path d="M80.7,667H897" stroke="#000" stroke-width="5.5" fill="none" stroke-dasharray="36.6 29.3 0 29.4" stroke-linecap="round"/>
<g font-family="Liberation Serif" font-weight="bold" font-size="20" fill="#000">
<text x="70.5" y="557.3" text-anchor="end" letter-spacing="-0.4">0.01</text>
<text x="70.5" y="439.1" text-anchor="end" letter-spacing="-0.4">0.02</text>
<text x="70.5" y="320.9" text-anchor="end" letter-spacing="-0.4">0.03</text>
<text x="70.5" y="202.7" text-anchor="end" letter-spacing="-0.4">0.04</text>
<text x="70.5" y="84.5" text-anchor="end" letter-spacing="-0.4">0.05</text>
<text x="44.5" y="102.8" text-anchor="end" letter-spacing="-0.7">0.047</text>
<text x="53" y="671.5" text-anchor="end">0</text>
<text x="73.5" y="671.5" text-anchor="end">0</text>
<text x="97.0" y="703.3" text-anchor="middle">-200</text>
<text x="162.7" y="703.3" text-anchor="middle">-170</text>
<text x="242.8" y="703.3" text-anchor="middle">-140</text>
<text x="323.6" y="703.3" text-anchor="middle">-110</text>
<text x="404.0" y="703.3" text-anchor="middle">-80</text>
<text x="487.6" y="703.3" text-anchor="middle">-50</text>
<text x="568.0" y="703.3" text-anchor="middle">-20</text>
<text x="649.1" y="703.3" text-anchor="middle">10</text>
<text x="731.2" y="703.3" text-anchor="middle">40</text>
<text x="812.5" y="703.3" text-anchor="middle">70</text>
<text x="878.4" y="703.3" text-anchor="middle">100</text>
<text x="97" y="734.7" text-anchor="middle">-200</text>
<text x="878.4" y="727.8" text-anchor="middle">100</text>
</g>
<text x="455.5" y="734.4" text-anchor="middle" font-family="Liberation Serif" font-style="italic" font-size="25" fill="#000">kz</text>
<g font-family="Liberation Sans" fill="#262626">
<text x="234.7" y="135.0" font-style="italic" font-size="15.5">k</text>
<text x="245.3" y="135.0" font-style="italic" font-size="15.5">&#946;</text>
<text x="256.8" y="135.0" font-size="15" textLength="11.3" lengthAdjust="spacingAndGlyphs">=</text>
<text x="270.6" y="135.0" font-size="15" textLength="28.6" lengthAdjust="spacingAndGlyphs">0.01</text>
<text x="233.3" y="150.5" font-style="italic" font-size="15.5">k</text>
<text x="244.0" y="150.5" font-style="italic" font-size="15.5">&#946;</text>
<text x="254.6" y="150.5" font-size="15" textLength="11.7" lengthAdjust="spacingAndGlyphs">=</text>
<text x="268.8" y="150.5" font-size="15" textLength="37.1" lengthAdjust="spacingAndGlyphs">0.005</text>
<text x="232.5" y="166.5" font-style="italic" font-size="15.5">k</text>
<text x="242.5" y="166.5" font-style="italic" font-size="15.5">&#946;</text>
<text x="254.5" y="166.5" font-size="15" textLength="10.5" lengthAdjust="spacingAndGlyphs">=</text>
<text x="268.0" y="166.5" font-size="15" textLength="35.0" lengthAdjust="spacingAndGlyphs">0.001</text>
<text x="232.0" y="179.0" font-style="italic" font-size="15.5">k</text>
<text x="241.5" y="179.0" font-style="italic" font-size="15.5">&#946;</text>
<text x="254.0" y="179.0" font-size="15" textLength="10.2" lengthAdjust="spacingAndGlyphs">=</text>
<text x="267.5" y="179.0" font-size="15">0</text>
</g>
<g transform="translate(25,376.4) rotate(-90)">
<line x1="0" y1="-20.5" x2="0" y2="10.5" stroke="#333" stroke-width="1.7"/>
<line x1="48.4" y1="-20.5" x2="48.4" y2="10.5" stroke="#333" stroke-width="1.7"/>
<text x="1" y="0" font-family="Liberation Serif" font-style="italic" font-size="22" fill="#222">U</text>
<text x="18" y="7" font-family="Liberation Serif" font-style="italic" font-size="15" fill="#222" textLength="25" lengthAdjust="spacingAndGlyphs">RRL</text>
</g>
</svg></body></html>
